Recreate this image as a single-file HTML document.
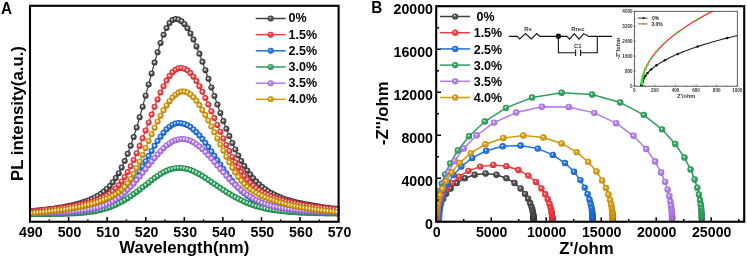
<!DOCTYPE html>
<html><head><meta charset="utf-8"><style>html,body{margin:0;padding:0;background:#fff;width:747px;height:259px;overflow:hidden}svg{display:block;will-change:transform}</style></head><body>
<svg width="747" height="259" viewBox="0 0 747 259" font-family='"Liberation Sans", sans-serif' font-weight="bold">
<defs><radialGradient id="g_gray" cx="0.5" cy="0.5" r="0.5" fx="0.4" fy="0.36"><stop offset="0" stop-color="#ffffff"/><stop offset="0.08" stop-color="#ffffff" stop-opacity="0.9"/><stop offset="0.22" stop-color="#9a9a9a"/><stop offset="0.4" stop-color="#4e4e4e"/><stop offset="0.8" stop-color="#4e4e4e"/><stop offset="1" stop-color="#2a2a2a"/></radialGradient><radialGradient id="a_gray" cx="0.5" cy="0.5" r="0.5" fx="0.42" fy="0.38"><stop offset="0" stop-color="#ffffff"/><stop offset="0.1" stop-color="#ffffff"/><stop offset="0.3" stop-color="#9a9a9a"/><stop offset="0.6" stop-color="#4e4e4e"/><stop offset="1" stop-color="#2a2a2a"/></radialGradient><radialGradient id="g_red" cx="0.5" cy="0.5" r="0.5" fx="0.4" fy="0.36"><stop offset="0" stop-color="#ffffff"/><stop offset="0.08" stop-color="#ffffff" stop-opacity="0.9"/><stop offset="0.22" stop-color="#ff9a9d"/><stop offset="0.4" stop-color="#ee3d43"/><stop offset="0.8" stop-color="#ee3d43"/><stop offset="1" stop-color="#c81f26"/></radialGradient><radialGradient id="a_red" cx="0.5" cy="0.5" r="0.5" fx="0.42" fy="0.38"><stop offset="0" stop-color="#ffffff"/><stop offset="0.1" stop-color="#ffffff"/><stop offset="0.3" stop-color="#ff9a9d"/><stop offset="0.6" stop-color="#ee3d43"/><stop offset="1" stop-color="#c81f26"/></radialGradient><radialGradient id="g_blue" cx="0.5" cy="0.5" r="0.5" fx="0.4" fy="0.36"><stop offset="0" stop-color="#ffffff"/><stop offset="0.08" stop-color="#ffffff" stop-opacity="0.9"/><stop offset="0.22" stop-color="#8fbcff"/><stop offset="0.4" stop-color="#2273e0"/><stop offset="0.8" stop-color="#2273e0"/><stop offset="1" stop-color="#0f4fb0"/></radialGradient><radialGradient id="a_blue" cx="0.5" cy="0.5" r="0.5" fx="0.42" fy="0.38"><stop offset="0" stop-color="#ffffff"/><stop offset="0.1" stop-color="#ffffff"/><stop offset="0.3" stop-color="#8fbcff"/><stop offset="0.6" stop-color="#2273e0"/><stop offset="1" stop-color="#0f4fb0"/></radialGradient><radialGradient id="g_green" cx="0.5" cy="0.5" r="0.5" fx="0.4" fy="0.36"><stop offset="0" stop-color="#ffffff"/><stop offset="0.08" stop-color="#ffffff" stop-opacity="0.9"/><stop offset="0.22" stop-color="#9ddcb5"/><stop offset="0.4" stop-color="#32a462"/><stop offset="0.8" stop-color="#32a462"/><stop offset="1" stop-color="#1b7a40"/></radialGradient><radialGradient id="a_green" cx="0.5" cy="0.5" r="0.5" fx="0.42" fy="0.38"><stop offset="0" stop-color="#ffffff"/><stop offset="0.1" stop-color="#ffffff"/><stop offset="0.3" stop-color="#9ddcb5"/><stop offset="0.6" stop-color="#32a462"/><stop offset="1" stop-color="#1b7a40"/></radialGradient><radialGradient id="g_purple" cx="0.5" cy="0.5" r="0.5" fx="0.4" fy="0.36"><stop offset="0" stop-color="#ffffff"/><stop offset="0.08" stop-color="#ffffff" stop-opacity="0.9"/><stop offset="0.22" stop-color="#dcc2ff"/><stop offset="0.4" stop-color="#b27ee8"/><stop offset="0.8" stop-color="#b27ee8"/><stop offset="1" stop-color="#8c52c8"/></radialGradient><radialGradient id="a_purple" cx="0.5" cy="0.5" r="0.5" fx="0.42" fy="0.38"><stop offset="0" stop-color="#ffffff"/><stop offset="0.1" stop-color="#ffffff"/><stop offset="0.3" stop-color="#dcc2ff"/><stop offset="0.6" stop-color="#b27ee8"/><stop offset="1" stop-color="#8c52c8"/></radialGradient><radialGradient id="g_orange" cx="0.5" cy="0.5" r="0.5" fx="0.4" fy="0.36"><stop offset="0" stop-color="#ffffff"/><stop offset="0.08" stop-color="#ffffff" stop-opacity="0.9"/><stop offset="0.22" stop-color="#f5d47a"/><stop offset="0.4" stop-color="#d69e10"/><stop offset="0.8" stop-color="#d69e10"/><stop offset="1" stop-color="#a87400"/></radialGradient><radialGradient id="a_orange" cx="0.5" cy="0.5" r="0.5" fx="0.42" fy="0.38"><stop offset="0" stop-color="#ffffff"/><stop offset="0.1" stop-color="#ffffff"/><stop offset="0.3" stop-color="#f5d47a"/><stop offset="0.6" stop-color="#d69e10"/><stop offset="1" stop-color="#a87400"/></radialGradient></defs>
<rect width="747" height="259" fill="#fff"/>
<g>
<polyline points="32,211.13 34.99,210.84 37.98,210.53 40.97,210.2 43.96,209.85 46.95,209.48 49.94,209.08 52.93,208.66 55.92,208.21 58.91,207.73 61.9,207.22 64.89,206.66 67.88,206.07 70.87,205.43 73.86,204.73 76.85,203.98 79.84,203.16 82.83,202.25 85.82,201.25 88.81,200.13 91.8,198.87 94.79,197.43 97.78,195.78 100.77,193.86 103.76,191.61 106.75,188.98 109.74,185.9 112.73,182.27 115.72,178.04 118.71,173.14 121.7,167.49 124.69,161.06 127.68,153.83 130.67,145.79 133.66,136.97 136.65,127.44 139.64,117.29 142.63,106.63 145.62,95.64 148.61,84.48 151.6,73.38 154.59,62.57 157.58,52.34 160.57,42.97 163.56,34.78 166.55,28.07 169.54,23.12 172.53,20.11 175.52,19.08 178.51,19.59 181.5,21.29 184.49,24.22 187.48,28.3 190.47,33.44 193.46,39.51 196.45,46.38 199.44,53.87 202.43,61.86 205.42,70.2 208.41,78.75 211.4,87.41 214.39,96.05 217.38,104.58 220.37,112.92 223.36,120.99 226.35,128.72 229.34,136.07 232.33,142.99 235.32,149.45 238.31,155.44 241.3,160.94 244.29,165.95 247.28,170.5 250.27,174.59 253.26,178.25 256.25,181.52 259.24,184.41 262.23,186.98 265.22,189.25 268.21,191.25 271.2,193.03 274.19,194.6 277.18,196 280.17,197.26 283.16,198.38 286.15,199.4 289.14,200.33 292.13,201.18 295.12,201.96 298.11,202.68 301.1,203.35 304.09,203.97 307.08,204.56 310.07,205.11 313.06,205.62 316.05,206.11 319.04,206.57 322.03,207 325.02,207.42 328.01,207.81 331,208.18 333.99,208.53 336.98,208.86" fill="none" stroke="#404040" stroke-width="1.2"/>
<circle cx="32" cy="211.13" r="3.0" fill="url(#a_gray)"/><circle cx="34.99" cy="210.84" r="3.0" fill="url(#a_gray)"/><circle cx="37.98" cy="210.53" r="3.0" fill="url(#a_gray)"/><circle cx="40.97" cy="210.2" r="3.0" fill="url(#a_gray)"/><circle cx="43.96" cy="209.85" r="3.0" fill="url(#a_gray)"/><circle cx="46.95" cy="209.48" r="3.0" fill="url(#a_gray)"/><circle cx="49.94" cy="209.08" r="3.0" fill="url(#a_gray)"/><circle cx="52.93" cy="208.66" r="3.0" fill="url(#a_gray)"/><circle cx="55.92" cy="208.21" r="3.0" fill="url(#a_gray)"/><circle cx="58.91" cy="207.73" r="3.0" fill="url(#a_gray)"/><circle cx="61.9" cy="207.22" r="3.0" fill="url(#a_gray)"/><circle cx="64.89" cy="206.66" r="3.0" fill="url(#a_gray)"/><circle cx="67.88" cy="206.07" r="3.0" fill="url(#a_gray)"/><circle cx="70.87" cy="205.43" r="3.0" fill="url(#a_gray)"/><circle cx="73.86" cy="204.73" r="3.0" fill="url(#a_gray)"/><circle cx="76.85" cy="203.98" r="3.0" fill="url(#a_gray)"/><circle cx="79.84" cy="203.16" r="3.0" fill="url(#a_gray)"/><circle cx="82.83" cy="202.25" r="3.0" fill="url(#a_gray)"/><circle cx="85.82" cy="201.25" r="3.0" fill="url(#a_gray)"/><circle cx="88.81" cy="200.13" r="3.0" fill="url(#a_gray)"/><circle cx="91.8" cy="198.87" r="3.0" fill="url(#a_gray)"/><circle cx="94.79" cy="197.43" r="3.0" fill="url(#a_gray)"/><circle cx="97.78" cy="195.78" r="3.0" fill="url(#a_gray)"/><circle cx="100.77" cy="193.86" r="3.0" fill="url(#a_gray)"/><circle cx="103.76" cy="191.61" r="3.0" fill="url(#a_gray)"/><circle cx="106.75" cy="188.98" r="3.0" fill="url(#a_gray)"/><circle cx="109.74" cy="185.9" r="3.0" fill="url(#a_gray)"/><circle cx="112.73" cy="182.27" r="3.0" fill="url(#a_gray)"/><circle cx="115.72" cy="178.04" r="3.0" fill="url(#a_gray)"/><circle cx="118.71" cy="173.14" r="3.0" fill="url(#a_gray)"/><circle cx="121.7" cy="167.49" r="3.0" fill="url(#a_gray)"/><circle cx="124.69" cy="161.06" r="3.0" fill="url(#a_gray)"/><circle cx="127.68" cy="153.83" r="3.0" fill="url(#a_gray)"/><circle cx="130.67" cy="145.79" r="3.0" fill="url(#a_gray)"/><circle cx="133.66" cy="136.97" r="3.0" fill="url(#a_gray)"/><circle cx="136.65" cy="127.44" r="3.0" fill="url(#a_gray)"/><circle cx="139.64" cy="117.29" r="3.0" fill="url(#a_gray)"/><circle cx="142.63" cy="106.63" r="3.0" fill="url(#a_gray)"/><circle cx="145.62" cy="95.64" r="3.0" fill="url(#a_gray)"/><circle cx="148.61" cy="84.48" r="3.0" fill="url(#a_gray)"/><circle cx="151.6" cy="73.38" r="3.0" fill="url(#a_gray)"/><circle cx="154.59" cy="62.57" r="3.0" fill="url(#a_gray)"/><circle cx="157.58" cy="52.34" r="3.0" fill="url(#a_gray)"/><circle cx="160.57" cy="42.97" r="3.0" fill="url(#a_gray)"/><circle cx="163.56" cy="34.78" r="3.0" fill="url(#a_gray)"/><circle cx="166.55" cy="28.07" r="3.0" fill="url(#a_gray)"/><circle cx="169.54" cy="23.12" r="3.0" fill="url(#a_gray)"/><circle cx="172.53" cy="20.11" r="3.0" fill="url(#a_gray)"/><circle cx="175.52" cy="19.08" r="3.0" fill="url(#a_gray)"/><circle cx="178.51" cy="19.59" r="3.0" fill="url(#a_gray)"/><circle cx="181.5" cy="21.29" r="3.0" fill="url(#a_gray)"/><circle cx="184.49" cy="24.22" r="3.0" fill="url(#a_gray)"/><circle cx="187.48" cy="28.3" r="3.0" fill="url(#a_gray)"/><circle cx="190.47" cy="33.44" r="3.0" fill="url(#a_gray)"/><circle cx="193.46" cy="39.51" r="3.0" fill="url(#a_gray)"/><circle cx="196.45" cy="46.38" r="3.0" fill="url(#a_gray)"/><circle cx="199.44" cy="53.87" r="3.0" fill="url(#a_gray)"/><circle cx="202.43" cy="61.86" r="3.0" fill="url(#a_gray)"/><circle cx="205.42" cy="70.2" r="3.0" fill="url(#a_gray)"/><circle cx="208.41" cy="78.75" r="3.0" fill="url(#a_gray)"/><circle cx="211.4" cy="87.41" r="3.0" fill="url(#a_gray)"/><circle cx="214.39" cy="96.05" r="3.0" fill="url(#a_gray)"/><circle cx="217.38" cy="104.58" r="3.0" fill="url(#a_gray)"/><circle cx="220.37" cy="112.92" r="3.0" fill="url(#a_gray)"/><circle cx="223.36" cy="120.99" r="3.0" fill="url(#a_gray)"/><circle cx="226.35" cy="128.72" r="3.0" fill="url(#a_gray)"/><circle cx="229.34" cy="136.07" r="3.0" fill="url(#a_gray)"/><circle cx="232.33" cy="142.99" r="3.0" fill="url(#a_gray)"/><circle cx="235.32" cy="149.45" r="3.0" fill="url(#a_gray)"/><circle cx="238.31" cy="155.44" r="3.0" fill="url(#a_gray)"/><circle cx="241.3" cy="160.94" r="3.0" fill="url(#a_gray)"/><circle cx="244.29" cy="165.95" r="3.0" fill="url(#a_gray)"/><circle cx="247.28" cy="170.5" r="3.0" fill="url(#a_gray)"/><circle cx="250.27" cy="174.59" r="3.0" fill="url(#a_gray)"/><circle cx="253.26" cy="178.25" r="3.0" fill="url(#a_gray)"/><circle cx="256.25" cy="181.52" r="3.0" fill="url(#a_gray)"/><circle cx="259.24" cy="184.41" r="3.0" fill="url(#a_gray)"/><circle cx="262.23" cy="186.98" r="3.0" fill="url(#a_gray)"/><circle cx="265.22" cy="189.25" r="3.0" fill="url(#a_gray)"/><circle cx="268.21" cy="191.25" r="3.0" fill="url(#a_gray)"/><circle cx="271.2" cy="193.03" r="3.0" fill="url(#a_gray)"/><circle cx="274.19" cy="194.6" r="3.0" fill="url(#a_gray)"/><circle cx="277.18" cy="196" r="3.0" fill="url(#a_gray)"/><circle cx="280.17" cy="197.26" r="3.0" fill="url(#a_gray)"/><circle cx="283.16" cy="198.38" r="3.0" fill="url(#a_gray)"/><circle cx="286.15" cy="199.4" r="3.0" fill="url(#a_gray)"/><circle cx="289.14" cy="200.33" r="3.0" fill="url(#a_gray)"/><circle cx="292.13" cy="201.18" r="3.0" fill="url(#a_gray)"/><circle cx="295.12" cy="201.96" r="3.0" fill="url(#a_gray)"/><circle cx="298.11" cy="202.68" r="3.0" fill="url(#a_gray)"/><circle cx="301.1" cy="203.35" r="3.0" fill="url(#a_gray)"/><circle cx="304.09" cy="203.97" r="3.0" fill="url(#a_gray)"/><circle cx="307.08" cy="204.56" r="3.0" fill="url(#a_gray)"/><circle cx="310.07" cy="205.11" r="3.0" fill="url(#a_gray)"/><circle cx="313.06" cy="205.62" r="3.0" fill="url(#a_gray)"/><circle cx="316.05" cy="206.11" r="3.0" fill="url(#a_gray)"/><circle cx="319.04" cy="206.57" r="3.0" fill="url(#a_gray)"/><circle cx="322.03" cy="207" r="3.0" fill="url(#a_gray)"/><circle cx="325.02" cy="207.42" r="3.0" fill="url(#a_gray)"/><circle cx="328.01" cy="207.81" r="3.0" fill="url(#a_gray)"/><circle cx="331" cy="208.18" r="3.0" fill="url(#a_gray)"/><circle cx="333.99" cy="208.53" r="3.0" fill="url(#a_gray)"/><circle cx="336.98" cy="208.86" r="3.0" fill="url(#a_gray)"/>
<polyline points="32,211 34.99,210.76 37.98,210.51 40.97,210.24 43.96,209.96 46.95,209.66 49.94,209.34 52.93,209.01 55.92,208.65 58.91,208.27 61.9,207.86 64.89,207.43 67.88,206.96 70.87,206.47 73.86,205.94 76.85,205.36 79.84,204.75 82.83,204.09 85.82,203.37 88.81,202.58 91.8,201.72 94.79,200.76 97.78,199.68 100.77,198.46 103.76,197.05 106.75,195.4 109.74,193.45 112.73,191.15 115.72,188.41 118.71,185.18 121.7,181.38 124.69,176.98 127.68,171.95 130.67,166.28 133.66,160.01 136.65,153.19 139.64,145.91 142.63,138.27 145.62,130.41 148.61,122.45 151.6,114.54 154.59,106.82 157.58,99.42 160.57,92.5 163.56,86.18 166.55,80.62 169.54,75.95 172.53,72.28 175.52,69.7 178.51,68.27 181.5,67.96 184.49,68.65 187.48,70.36 190.47,73.04 193.46,76.64 196.45,81.06 199.44,86.17 202.43,91.86 205.42,98 208.41,104.49 211.4,111.21 214.39,118.05 217.38,124.93 220.37,131.76 223.36,138.44 226.35,144.9 229.34,151.08 232.33,156.9 235.32,162.32 238.31,167.31 241.3,171.85 244.29,175.93 247.28,179.56 250.27,182.77 253.26,185.58 256.25,188.04 259.24,190.18 262.23,192.06 265.22,193.7 268.21,195.15 271.2,196.44 274.19,197.59 277.18,198.64 280.17,199.59 283.16,200.46 286.15,201.27 289.14,202.02 292.13,202.71 295.12,203.36 298.11,203.97 301.1,204.54 304.09,205.08 307.08,205.58 310.07,206.06 313.06,206.5 316.05,206.92 319.04,207.32 322.03,207.7 325.02,208.05 328.01,208.39 331,208.7 333.99,209.01 336.98,209.29" fill="none" stroke="#ec3b41" stroke-width="1.2"/>
<circle cx="32" cy="211" r="3.0" fill="url(#a_red)"/><circle cx="34.99" cy="210.76" r="3.0" fill="url(#a_red)"/><circle cx="37.98" cy="210.51" r="3.0" fill="url(#a_red)"/><circle cx="40.97" cy="210.24" r="3.0" fill="url(#a_red)"/><circle cx="43.96" cy="209.96" r="3.0" fill="url(#a_red)"/><circle cx="46.95" cy="209.66" r="3.0" fill="url(#a_red)"/><circle cx="49.94" cy="209.34" r="3.0" fill="url(#a_red)"/><circle cx="52.93" cy="209.01" r="3.0" fill="url(#a_red)"/><circle cx="55.92" cy="208.65" r="3.0" fill="url(#a_red)"/><circle cx="58.91" cy="208.27" r="3.0" fill="url(#a_red)"/><circle cx="61.9" cy="207.86" r="3.0" fill="url(#a_red)"/><circle cx="64.89" cy="207.43" r="3.0" fill="url(#a_red)"/><circle cx="67.88" cy="206.96" r="3.0" fill="url(#a_red)"/><circle cx="70.87" cy="206.47" r="3.0" fill="url(#a_red)"/><circle cx="73.86" cy="205.94" r="3.0" fill="url(#a_red)"/><circle cx="76.85" cy="205.36" r="3.0" fill="url(#a_red)"/><circle cx="79.84" cy="204.75" r="3.0" fill="url(#a_red)"/><circle cx="82.83" cy="204.09" r="3.0" fill="url(#a_red)"/><circle cx="85.82" cy="203.37" r="3.0" fill="url(#a_red)"/><circle cx="88.81" cy="202.58" r="3.0" fill="url(#a_red)"/><circle cx="91.8" cy="201.72" r="3.0" fill="url(#a_red)"/><circle cx="94.79" cy="200.76" r="3.0" fill="url(#a_red)"/><circle cx="97.78" cy="199.68" r="3.0" fill="url(#a_red)"/><circle cx="100.77" cy="198.46" r="3.0" fill="url(#a_red)"/><circle cx="103.76" cy="197.05" r="3.0" fill="url(#a_red)"/><circle cx="106.75" cy="195.4" r="3.0" fill="url(#a_red)"/><circle cx="109.74" cy="193.45" r="3.0" fill="url(#a_red)"/><circle cx="112.73" cy="191.15" r="3.0" fill="url(#a_red)"/><circle cx="115.72" cy="188.41" r="3.0" fill="url(#a_red)"/><circle cx="118.71" cy="185.18" r="3.0" fill="url(#a_red)"/><circle cx="121.7" cy="181.38" r="3.0" fill="url(#a_red)"/><circle cx="124.69" cy="176.98" r="3.0" fill="url(#a_red)"/><circle cx="127.68" cy="171.95" r="3.0" fill="url(#a_red)"/><circle cx="130.67" cy="166.28" r="3.0" fill="url(#a_red)"/><circle cx="133.66" cy="160.01" r="3.0" fill="url(#a_red)"/><circle cx="136.65" cy="153.19" r="3.0" fill="url(#a_red)"/><circle cx="139.64" cy="145.91" r="3.0" fill="url(#a_red)"/><circle cx="142.63" cy="138.27" r="3.0" fill="url(#a_red)"/><circle cx="145.62" cy="130.41" r="3.0" fill="url(#a_red)"/><circle cx="148.61" cy="122.45" r="3.0" fill="url(#a_red)"/><circle cx="151.6" cy="114.54" r="3.0" fill="url(#a_red)"/><circle cx="154.59" cy="106.82" r="3.0" fill="url(#a_red)"/><circle cx="157.58" cy="99.42" r="3.0" fill="url(#a_red)"/><circle cx="160.57" cy="92.5" r="3.0" fill="url(#a_red)"/><circle cx="163.56" cy="86.18" r="3.0" fill="url(#a_red)"/><circle cx="166.55" cy="80.62" r="3.0" fill="url(#a_red)"/><circle cx="169.54" cy="75.95" r="3.0" fill="url(#a_red)"/><circle cx="172.53" cy="72.28" r="3.0" fill="url(#a_red)"/><circle cx="175.52" cy="69.7" r="3.0" fill="url(#a_red)"/><circle cx="178.51" cy="68.27" r="3.0" fill="url(#a_red)"/><circle cx="181.5" cy="67.96" r="3.0" fill="url(#a_red)"/><circle cx="184.49" cy="68.65" r="3.0" fill="url(#a_red)"/><circle cx="187.48" cy="70.36" r="3.0" fill="url(#a_red)"/><circle cx="190.47" cy="73.04" r="3.0" fill="url(#a_red)"/><circle cx="193.46" cy="76.64" r="3.0" fill="url(#a_red)"/><circle cx="196.45" cy="81.06" r="3.0" fill="url(#a_red)"/><circle cx="199.44" cy="86.17" r="3.0" fill="url(#a_red)"/><circle cx="202.43" cy="91.86" r="3.0" fill="url(#a_red)"/><circle cx="205.42" cy="98" r="3.0" fill="url(#a_red)"/><circle cx="208.41" cy="104.49" r="3.0" fill="url(#a_red)"/><circle cx="211.4" cy="111.21" r="3.0" fill="url(#a_red)"/><circle cx="214.39" cy="118.05" r="3.0" fill="url(#a_red)"/><circle cx="217.38" cy="124.93" r="3.0" fill="url(#a_red)"/><circle cx="220.37" cy="131.76" r="3.0" fill="url(#a_red)"/><circle cx="223.36" cy="138.44" r="3.0" fill="url(#a_red)"/><circle cx="226.35" cy="144.9" r="3.0" fill="url(#a_red)"/><circle cx="229.34" cy="151.08" r="3.0" fill="url(#a_red)"/><circle cx="232.33" cy="156.9" r="3.0" fill="url(#a_red)"/><circle cx="235.32" cy="162.32" r="3.0" fill="url(#a_red)"/><circle cx="238.31" cy="167.31" r="3.0" fill="url(#a_red)"/><circle cx="241.3" cy="171.85" r="3.0" fill="url(#a_red)"/><circle cx="244.29" cy="175.93" r="3.0" fill="url(#a_red)"/><circle cx="247.28" cy="179.56" r="3.0" fill="url(#a_red)"/><circle cx="250.27" cy="182.77" r="3.0" fill="url(#a_red)"/><circle cx="253.26" cy="185.58" r="3.0" fill="url(#a_red)"/><circle cx="256.25" cy="188.04" r="3.0" fill="url(#a_red)"/><circle cx="259.24" cy="190.18" r="3.0" fill="url(#a_red)"/><circle cx="262.23" cy="192.06" r="3.0" fill="url(#a_red)"/><circle cx="265.22" cy="193.7" r="3.0" fill="url(#a_red)"/><circle cx="268.21" cy="195.15" r="3.0" fill="url(#a_red)"/><circle cx="271.2" cy="196.44" r="3.0" fill="url(#a_red)"/><circle cx="274.19" cy="197.59" r="3.0" fill="url(#a_red)"/><circle cx="277.18" cy="198.64" r="3.0" fill="url(#a_red)"/><circle cx="280.17" cy="199.59" r="3.0" fill="url(#a_red)"/><circle cx="283.16" cy="200.46" r="3.0" fill="url(#a_red)"/><circle cx="286.15" cy="201.27" r="3.0" fill="url(#a_red)"/><circle cx="289.14" cy="202.02" r="3.0" fill="url(#a_red)"/><circle cx="292.13" cy="202.71" r="3.0" fill="url(#a_red)"/><circle cx="295.12" cy="203.36" r="3.0" fill="url(#a_red)"/><circle cx="298.11" cy="203.97" r="3.0" fill="url(#a_red)"/><circle cx="301.1" cy="204.54" r="3.0" fill="url(#a_red)"/><circle cx="304.09" cy="205.08" r="3.0" fill="url(#a_red)"/><circle cx="307.08" cy="205.58" r="3.0" fill="url(#a_red)"/><circle cx="310.07" cy="206.06" r="3.0" fill="url(#a_red)"/><circle cx="313.06" cy="206.5" r="3.0" fill="url(#a_red)"/><circle cx="316.05" cy="206.92" r="3.0" fill="url(#a_red)"/><circle cx="319.04" cy="207.32" r="3.0" fill="url(#a_red)"/><circle cx="322.03" cy="207.7" r="3.0" fill="url(#a_red)"/><circle cx="325.02" cy="208.05" r="3.0" fill="url(#a_red)"/><circle cx="328.01" cy="208.39" r="3.0" fill="url(#a_red)"/><circle cx="331" cy="208.7" r="3.0" fill="url(#a_red)"/><circle cx="333.99" cy="209.01" r="3.0" fill="url(#a_red)"/><circle cx="336.98" cy="209.29" r="3.0" fill="url(#a_red)"/>
<polyline points="32,212.58 34.99,212.46 37.98,212.34 40.97,212.2 43.96,212.06 46.95,211.9 49.94,211.74 52.93,211.57 55.92,211.39 58.91,211.19 61.9,210.98 64.89,210.76 67.88,210.52 70.87,210.26 73.86,209.98 76.85,209.68 79.84,209.36 82.83,209 85.82,208.62 88.81,208.18 91.8,207.7 94.79,207.15 97.78,206.52 100.77,205.78 103.76,204.91 106.75,203.88 109.74,202.64 112.73,201.15 115.72,199.37 118.71,197.26 121.7,194.77 124.69,191.89 127.68,188.6 130.67,184.89 133.66,180.78 136.65,176.31 139.64,171.53 142.63,166.51 145.62,161.34 148.61,156.1 151.6,150.91 154.59,145.87 157.58,141.08 160.57,136.65 163.56,132.7 166.55,129.33 169.54,126.63 172.53,124.67 175.52,123.49 178.51,123.08 181.5,123.27 184.49,123.99 187.48,125.26 190.47,127.08 193.46,129.42 196.45,132.24 199.44,135.48 202.43,139.09 205.42,142.99 208.41,147.12 211.4,151.43 214.39,155.83 217.38,160.28 220.37,164.7 223.36,169.03 226.35,173.23 229.34,177.24 232.33,181.02 235.32,184.53 238.31,187.76 241.3,190.7 244.29,193.33 247.28,195.66 250.27,197.71 253.26,199.5 256.25,201.04 259.24,202.37 262.23,203.5 265.22,204.47 268.21,205.31 271.2,206.02 274.19,206.64 277.18,207.19 280.17,207.67 283.16,208.09 286.15,208.48 289.14,208.83 292.13,209.15 295.12,209.44 298.11,209.72 301.1,209.97 304.09,210.21 307.08,210.44 310.07,210.65 313.06,210.85 316.05,211.03 319.04,211.21 322.03,211.38 325.02,211.54 328.01,211.69 331,211.83 333.99,211.96 336.98,212.09" fill="none" stroke="#1f6fdc" stroke-width="1.2"/>
<circle cx="32" cy="212.58" r="3.0" fill="url(#a_blue)"/><circle cx="34.99" cy="212.46" r="3.0" fill="url(#a_blue)"/><circle cx="37.98" cy="212.34" r="3.0" fill="url(#a_blue)"/><circle cx="40.97" cy="212.2" r="3.0" fill="url(#a_blue)"/><circle cx="43.96" cy="212.06" r="3.0" fill="url(#a_blue)"/><circle cx="46.95" cy="211.9" r="3.0" fill="url(#a_blue)"/><circle cx="49.94" cy="211.74" r="3.0" fill="url(#a_blue)"/><circle cx="52.93" cy="211.57" r="3.0" fill="url(#a_blue)"/><circle cx="55.92" cy="211.39" r="3.0" fill="url(#a_blue)"/><circle cx="58.91" cy="211.19" r="3.0" fill="url(#a_blue)"/><circle cx="61.9" cy="210.98" r="3.0" fill="url(#a_blue)"/><circle cx="64.89" cy="210.76" r="3.0" fill="url(#a_blue)"/><circle cx="67.88" cy="210.52" r="3.0" fill="url(#a_blue)"/><circle cx="70.87" cy="210.26" r="3.0" fill="url(#a_blue)"/><circle cx="73.86" cy="209.98" r="3.0" fill="url(#a_blue)"/><circle cx="76.85" cy="209.68" r="3.0" fill="url(#a_blue)"/><circle cx="79.84" cy="209.36" r="3.0" fill="url(#a_blue)"/><circle cx="82.83" cy="209" r="3.0" fill="url(#a_blue)"/><circle cx="85.82" cy="208.62" r="3.0" fill="url(#a_blue)"/><circle cx="88.81" cy="208.18" r="3.0" fill="url(#a_blue)"/><circle cx="91.8" cy="207.7" r="3.0" fill="url(#a_blue)"/><circle cx="94.79" cy="207.15" r="3.0" fill="url(#a_blue)"/><circle cx="97.78" cy="206.52" r="3.0" fill="url(#a_blue)"/><circle cx="100.77" cy="205.78" r="3.0" fill="url(#a_blue)"/><circle cx="103.76" cy="204.91" r="3.0" fill="url(#a_blue)"/><circle cx="106.75" cy="203.88" r="3.0" fill="url(#a_blue)"/><circle cx="109.74" cy="202.64" r="3.0" fill="url(#a_blue)"/><circle cx="112.73" cy="201.15" r="3.0" fill="url(#a_blue)"/><circle cx="115.72" cy="199.37" r="3.0" fill="url(#a_blue)"/><circle cx="118.71" cy="197.26" r="3.0" fill="url(#a_blue)"/><circle cx="121.7" cy="194.77" r="3.0" fill="url(#a_blue)"/><circle cx="124.69" cy="191.89" r="3.0" fill="url(#a_blue)"/><circle cx="127.68" cy="188.6" r="3.0" fill="url(#a_blue)"/><circle cx="130.67" cy="184.89" r="3.0" fill="url(#a_blue)"/><circle cx="133.66" cy="180.78" r="3.0" fill="url(#a_blue)"/><circle cx="136.65" cy="176.31" r="3.0" fill="url(#a_blue)"/><circle cx="139.64" cy="171.53" r="3.0" fill="url(#a_blue)"/><circle cx="142.63" cy="166.51" r="3.0" fill="url(#a_blue)"/><circle cx="145.62" cy="161.34" r="3.0" fill="url(#a_blue)"/><circle cx="148.61" cy="156.1" r="3.0" fill="url(#a_blue)"/><circle cx="151.6" cy="150.91" r="3.0" fill="url(#a_blue)"/><circle cx="154.59" cy="145.87" r="3.0" fill="url(#a_blue)"/><circle cx="157.58" cy="141.08" r="3.0" fill="url(#a_blue)"/><circle cx="160.57" cy="136.65" r="3.0" fill="url(#a_blue)"/><circle cx="163.56" cy="132.7" r="3.0" fill="url(#a_blue)"/><circle cx="166.55" cy="129.33" r="3.0" fill="url(#a_blue)"/><circle cx="169.54" cy="126.63" r="3.0" fill="url(#a_blue)"/><circle cx="172.53" cy="124.67" r="3.0" fill="url(#a_blue)"/><circle cx="175.52" cy="123.49" r="3.0" fill="url(#a_blue)"/><circle cx="178.51" cy="123.08" r="3.0" fill="url(#a_blue)"/><circle cx="181.5" cy="123.27" r="3.0" fill="url(#a_blue)"/><circle cx="184.49" cy="123.99" r="3.0" fill="url(#a_blue)"/><circle cx="187.48" cy="125.26" r="3.0" fill="url(#a_blue)"/><circle cx="190.47" cy="127.08" r="3.0" fill="url(#a_blue)"/><circle cx="193.46" cy="129.42" r="3.0" fill="url(#a_blue)"/><circle cx="196.45" cy="132.24" r="3.0" fill="url(#a_blue)"/><circle cx="199.44" cy="135.48" r="3.0" fill="url(#a_blue)"/><circle cx="202.43" cy="139.09" r="3.0" fill="url(#a_blue)"/><circle cx="205.42" cy="142.99" r="3.0" fill="url(#a_blue)"/><circle cx="208.41" cy="147.12" r="3.0" fill="url(#a_blue)"/><circle cx="211.4" cy="151.43" r="3.0" fill="url(#a_blue)"/><circle cx="214.39" cy="155.83" r="3.0" fill="url(#a_blue)"/><circle cx="217.38" cy="160.28" r="3.0" fill="url(#a_blue)"/><circle cx="220.37" cy="164.7" r="3.0" fill="url(#a_blue)"/><circle cx="223.36" cy="169.03" r="3.0" fill="url(#a_blue)"/><circle cx="226.35" cy="173.23" r="3.0" fill="url(#a_blue)"/><circle cx="229.34" cy="177.24" r="3.0" fill="url(#a_blue)"/><circle cx="232.33" cy="181.02" r="3.0" fill="url(#a_blue)"/><circle cx="235.32" cy="184.53" r="3.0" fill="url(#a_blue)"/><circle cx="238.31" cy="187.76" r="3.0" fill="url(#a_blue)"/><circle cx="241.3" cy="190.7" r="3.0" fill="url(#a_blue)"/><circle cx="244.29" cy="193.33" r="3.0" fill="url(#a_blue)"/><circle cx="247.28" cy="195.66" r="3.0" fill="url(#a_blue)"/><circle cx="250.27" cy="197.71" r="3.0" fill="url(#a_blue)"/><circle cx="253.26" cy="199.5" r="3.0" fill="url(#a_blue)"/><circle cx="256.25" cy="201.04" r="3.0" fill="url(#a_blue)"/><circle cx="259.24" cy="202.37" r="3.0" fill="url(#a_blue)"/><circle cx="262.23" cy="203.5" r="3.0" fill="url(#a_blue)"/><circle cx="265.22" cy="204.47" r="3.0" fill="url(#a_blue)"/><circle cx="268.21" cy="205.31" r="3.0" fill="url(#a_blue)"/><circle cx="271.2" cy="206.02" r="3.0" fill="url(#a_blue)"/><circle cx="274.19" cy="206.64" r="3.0" fill="url(#a_blue)"/><circle cx="277.18" cy="207.19" r="3.0" fill="url(#a_blue)"/><circle cx="280.17" cy="207.67" r="3.0" fill="url(#a_blue)"/><circle cx="283.16" cy="208.09" r="3.0" fill="url(#a_blue)"/><circle cx="286.15" cy="208.48" r="3.0" fill="url(#a_blue)"/><circle cx="289.14" cy="208.83" r="3.0" fill="url(#a_blue)"/><circle cx="292.13" cy="209.15" r="3.0" fill="url(#a_blue)"/><circle cx="295.12" cy="209.44" r="3.0" fill="url(#a_blue)"/><circle cx="298.11" cy="209.72" r="3.0" fill="url(#a_blue)"/><circle cx="301.1" cy="209.97" r="3.0" fill="url(#a_blue)"/><circle cx="304.09" cy="210.21" r="3.0" fill="url(#a_blue)"/><circle cx="307.08" cy="210.44" r="3.0" fill="url(#a_blue)"/><circle cx="310.07" cy="210.65" r="3.0" fill="url(#a_blue)"/><circle cx="313.06" cy="210.85" r="3.0" fill="url(#a_blue)"/><circle cx="316.05" cy="211.03" r="3.0" fill="url(#a_blue)"/><circle cx="319.04" cy="211.21" r="3.0" fill="url(#a_blue)"/><circle cx="322.03" cy="211.38" r="3.0" fill="url(#a_blue)"/><circle cx="325.02" cy="211.54" r="3.0" fill="url(#a_blue)"/><circle cx="328.01" cy="211.69" r="3.0" fill="url(#a_blue)"/><circle cx="331" cy="211.83" r="3.0" fill="url(#a_blue)"/><circle cx="333.99" cy="211.96" r="3.0" fill="url(#a_blue)"/><circle cx="336.98" cy="212.09" r="3.0" fill="url(#a_blue)"/>
<polyline points="32,214.35 34.99,214.32 37.98,214.29 40.97,214.26 43.96,214.22 46.95,214.18 49.94,214.14 52.93,214.08 55.92,214.03 58.91,213.96 61.9,213.88 64.89,213.79 67.88,213.68 70.87,213.55 73.86,213.4 76.85,213.21 79.84,213 82.83,212.74 85.82,212.43 88.81,212.07 91.8,211.64 94.79,211.14 97.78,210.56 100.77,209.88 103.76,209.09 106.75,208.2 109.74,207.18 112.73,206.03 115.72,204.74 118.71,203.31 121.7,201.74 124.69,200.03 127.68,198.19 130.67,196.21 133.66,194.12 136.65,191.93 139.64,189.66 142.63,187.34 145.62,184.99 148.61,182.64 151.6,180.34 154.59,178.11 157.58,176.01 160.57,174.07 163.56,172.33 166.55,170.83 169.54,169.61 172.53,168.71 175.52,168.13 178.51,167.91 181.5,168 184.49,168.4 187.48,169.09 190.47,170.05 193.46,171.27 196.45,172.7 199.44,174.32 202.43,176.09 205.42,177.97 208.41,179.94 211.4,181.96 214.39,184 217.38,186.05 220.37,188.07 223.36,190.06 226.35,191.98 229.34,193.84 232.33,195.61 235.32,197.29 238.31,198.87 241.3,200.35 244.29,201.72 247.28,202.99 250.27,204.15 253.26,205.21 256.25,206.18 259.24,207.05 262.23,207.83 265.22,208.53 268.21,209.15 271.2,209.7 274.19,210.19 277.18,210.62 280.17,211 283.16,211.33 286.15,211.62 289.14,211.88 292.13,212.1 295.12,212.3 298.11,212.48 301.1,212.63 304.09,212.77 307.08,212.89 310.07,213 313.06,213.1 316.05,213.19 319.04,213.28 322.03,213.35 325.02,213.42 328.01,213.48 331,213.54 333.99,213.6 336.98,213.65" fill="none" stroke="#2e9e5c" stroke-width="1.2"/>
<circle cx="32" cy="214.35" r="3.0" fill="url(#a_green)"/><circle cx="34.99" cy="214.32" r="3.0" fill="url(#a_green)"/><circle cx="37.98" cy="214.29" r="3.0" fill="url(#a_green)"/><circle cx="40.97" cy="214.26" r="3.0" fill="url(#a_green)"/><circle cx="43.96" cy="214.22" r="3.0" fill="url(#a_green)"/><circle cx="46.95" cy="214.18" r="3.0" fill="url(#a_green)"/><circle cx="49.94" cy="214.14" r="3.0" fill="url(#a_green)"/><circle cx="52.93" cy="214.08" r="3.0" fill="url(#a_green)"/><circle cx="55.92" cy="214.03" r="3.0" fill="url(#a_green)"/><circle cx="58.91" cy="213.96" r="3.0" fill="url(#a_green)"/><circle cx="61.9" cy="213.88" r="3.0" fill="url(#a_green)"/><circle cx="64.89" cy="213.79" r="3.0" fill="url(#a_green)"/><circle cx="67.88" cy="213.68" r="3.0" fill="url(#a_green)"/><circle cx="70.87" cy="213.55" r="3.0" fill="url(#a_green)"/><circle cx="73.86" cy="213.4" r="3.0" fill="url(#a_green)"/><circle cx="76.85" cy="213.21" r="3.0" fill="url(#a_green)"/><circle cx="79.84" cy="213" r="3.0" fill="url(#a_green)"/><circle cx="82.83" cy="212.74" r="3.0" fill="url(#a_green)"/><circle cx="85.82" cy="212.43" r="3.0" fill="url(#a_green)"/><circle cx="88.81" cy="212.07" r="3.0" fill="url(#a_green)"/><circle cx="91.8" cy="211.64" r="3.0" fill="url(#a_green)"/><circle cx="94.79" cy="211.14" r="3.0" fill="url(#a_green)"/><circle cx="97.78" cy="210.56" r="3.0" fill="url(#a_green)"/><circle cx="100.77" cy="209.88" r="3.0" fill="url(#a_green)"/><circle cx="103.76" cy="209.09" r="3.0" fill="url(#a_green)"/><circle cx="106.75" cy="208.2" r="3.0" fill="url(#a_green)"/><circle cx="109.74" cy="207.18" r="3.0" fill="url(#a_green)"/><circle cx="112.73" cy="206.03" r="3.0" fill="url(#a_green)"/><circle cx="115.72" cy="204.74" r="3.0" fill="url(#a_green)"/><circle cx="118.71" cy="203.31" r="3.0" fill="url(#a_green)"/><circle cx="121.7" cy="201.74" r="3.0" fill="url(#a_green)"/><circle cx="124.69" cy="200.03" r="3.0" fill="url(#a_green)"/><circle cx="127.68" cy="198.19" r="3.0" fill="url(#a_green)"/><circle cx="130.67" cy="196.21" r="3.0" fill="url(#a_green)"/><circle cx="133.66" cy="194.12" r="3.0" fill="url(#a_green)"/><circle cx="136.65" cy="191.93" r="3.0" fill="url(#a_green)"/><circle cx="139.64" cy="189.66" r="3.0" fill="url(#a_green)"/><circle cx="142.63" cy="187.34" r="3.0" fill="url(#a_green)"/><circle cx="145.62" cy="184.99" r="3.0" fill="url(#a_green)"/><circle cx="148.61" cy="182.64" r="3.0" fill="url(#a_green)"/><circle cx="151.6" cy="180.34" r="3.0" fill="url(#a_green)"/><circle cx="154.59" cy="178.11" r="3.0" fill="url(#a_green)"/><circle cx="157.58" cy="176.01" r="3.0" fill="url(#a_green)"/><circle cx="160.57" cy="174.07" r="3.0" fill="url(#a_green)"/><circle cx="163.56" cy="172.33" r="3.0" fill="url(#a_green)"/><circle cx="166.55" cy="170.83" r="3.0" fill="url(#a_green)"/><circle cx="169.54" cy="169.61" r="3.0" fill="url(#a_green)"/><circle cx="172.53" cy="168.71" r="3.0" fill="url(#a_green)"/><circle cx="175.52" cy="168.13" r="3.0" fill="url(#a_green)"/><circle cx="178.51" cy="167.91" r="3.0" fill="url(#a_green)"/><circle cx="181.5" cy="168" r="3.0" fill="url(#a_green)"/><circle cx="184.49" cy="168.4" r="3.0" fill="url(#a_green)"/><circle cx="187.48" cy="169.09" r="3.0" fill="url(#a_green)"/><circle cx="190.47" cy="170.05" r="3.0" fill="url(#a_green)"/><circle cx="193.46" cy="171.27" r="3.0" fill="url(#a_green)"/><circle cx="196.45" cy="172.7" r="3.0" fill="url(#a_green)"/><circle cx="199.44" cy="174.32" r="3.0" fill="url(#a_green)"/><circle cx="202.43" cy="176.09" r="3.0" fill="url(#a_green)"/><circle cx="205.42" cy="177.97" r="3.0" fill="url(#a_green)"/><circle cx="208.41" cy="179.94" r="3.0" fill="url(#a_green)"/><circle cx="211.4" cy="181.96" r="3.0" fill="url(#a_green)"/><circle cx="214.39" cy="184" r="3.0" fill="url(#a_green)"/><circle cx="217.38" cy="186.05" r="3.0" fill="url(#a_green)"/><circle cx="220.37" cy="188.07" r="3.0" fill="url(#a_green)"/><circle cx="223.36" cy="190.06" r="3.0" fill="url(#a_green)"/><circle cx="226.35" cy="191.98" r="3.0" fill="url(#a_green)"/><circle cx="229.34" cy="193.84" r="3.0" fill="url(#a_green)"/><circle cx="232.33" cy="195.61" r="3.0" fill="url(#a_green)"/><circle cx="235.32" cy="197.29" r="3.0" fill="url(#a_green)"/><circle cx="238.31" cy="198.87" r="3.0" fill="url(#a_green)"/><circle cx="241.3" cy="200.35" r="3.0" fill="url(#a_green)"/><circle cx="244.29" cy="201.72" r="3.0" fill="url(#a_green)"/><circle cx="247.28" cy="202.99" r="3.0" fill="url(#a_green)"/><circle cx="250.27" cy="204.15" r="3.0" fill="url(#a_green)"/><circle cx="253.26" cy="205.21" r="3.0" fill="url(#a_green)"/><circle cx="256.25" cy="206.18" r="3.0" fill="url(#a_green)"/><circle cx="259.24" cy="207.05" r="3.0" fill="url(#a_green)"/><circle cx="262.23" cy="207.83" r="3.0" fill="url(#a_green)"/><circle cx="265.22" cy="208.53" r="3.0" fill="url(#a_green)"/><circle cx="268.21" cy="209.15" r="3.0" fill="url(#a_green)"/><circle cx="271.2" cy="209.7" r="3.0" fill="url(#a_green)"/><circle cx="274.19" cy="210.19" r="3.0" fill="url(#a_green)"/><circle cx="277.18" cy="210.62" r="3.0" fill="url(#a_green)"/><circle cx="280.17" cy="211" r="3.0" fill="url(#a_green)"/><circle cx="283.16" cy="211.33" r="3.0" fill="url(#a_green)"/><circle cx="286.15" cy="211.62" r="3.0" fill="url(#a_green)"/><circle cx="289.14" cy="211.88" r="3.0" fill="url(#a_green)"/><circle cx="292.13" cy="212.1" r="3.0" fill="url(#a_green)"/><circle cx="295.12" cy="212.3" r="3.0" fill="url(#a_green)"/><circle cx="298.11" cy="212.48" r="3.0" fill="url(#a_green)"/><circle cx="301.1" cy="212.63" r="3.0" fill="url(#a_green)"/><circle cx="304.09" cy="212.77" r="3.0" fill="url(#a_green)"/><circle cx="307.08" cy="212.89" r="3.0" fill="url(#a_green)"/><circle cx="310.07" cy="213" r="3.0" fill="url(#a_green)"/><circle cx="313.06" cy="213.1" r="3.0" fill="url(#a_green)"/><circle cx="316.05" cy="213.19" r="3.0" fill="url(#a_green)"/><circle cx="319.04" cy="213.28" r="3.0" fill="url(#a_green)"/><circle cx="322.03" cy="213.35" r="3.0" fill="url(#a_green)"/><circle cx="325.02" cy="213.42" r="3.0" fill="url(#a_green)"/><circle cx="328.01" cy="213.48" r="3.0" fill="url(#a_green)"/><circle cx="331" cy="213.54" r="3.0" fill="url(#a_green)"/><circle cx="333.99" cy="213.6" r="3.0" fill="url(#a_green)"/><circle cx="336.98" cy="213.65" r="3.0" fill="url(#a_green)"/>
<polyline points="32,213.54 34.99,213.44 37.98,213.34 40.97,213.23 43.96,213.11 46.95,212.99 49.94,212.86 52.93,212.72 55.92,212.58 58.91,212.42 61.9,212.24 64.89,212.06 67.88,211.85 70.87,211.63 73.86,211.38 76.85,211.1 79.84,210.78 82.83,210.42 85.82,210.01 88.81,209.52 91.8,208.96 94.79,208.3 97.78,207.53 100.77,206.62 103.76,205.57 106.75,204.34 109.74,202.93 112.73,201.31 115.72,199.47 118.71,197.39 121.7,195.07 124.69,192.5 127.68,189.7 130.67,186.67 133.66,183.44 136.65,180.02 139.64,176.45 142.63,172.77 145.62,169.03 148.61,165.27 151.6,161.56 154.59,157.93 157.58,154.47 160.57,151.22 163.56,148.25 166.55,145.62 169.54,143.38 172.53,141.58 175.52,140.26 178.51,139.43 181.5,139.08 184.49,139.16 187.48,139.7 190.47,140.73 193.46,142.23 196.45,144.18 199.44,146.51 202.43,149.18 205.42,152.11 208.41,155.27 211.4,158.57 214.39,161.98 217.38,165.44 220.37,168.9 223.36,172.32 226.35,175.66 229.34,178.89 232.33,181.99 235.32,184.93 238.31,187.7 241.3,190.27 244.29,192.65 247.28,194.83 250.27,196.8 253.26,198.59 256.25,200.18 259.24,201.61 262.23,202.86 265.22,203.97 268.21,204.95 271.2,205.81 274.19,206.56 277.18,207.22 280.17,207.8 283.16,208.31 286.15,208.77 289.14,209.18 292.13,209.54 295.12,209.88 298.11,210.18 301.1,210.45 304.09,210.71 307.08,210.94 310.07,211.16 313.06,211.36 316.05,211.56 319.04,211.74 322.03,211.9 325.02,212.06 328.01,212.21 331,212.36 333.99,212.49 336.98,212.62" fill="none" stroke="#b07ae8" stroke-width="1.2"/>
<circle cx="32" cy="213.54" r="3.0" fill="url(#a_purple)"/><circle cx="34.99" cy="213.44" r="3.0" fill="url(#a_purple)"/><circle cx="37.98" cy="213.34" r="3.0" fill="url(#a_purple)"/><circle cx="40.97" cy="213.23" r="3.0" fill="url(#a_purple)"/><circle cx="43.96" cy="213.11" r="3.0" fill="url(#a_purple)"/><circle cx="46.95" cy="212.99" r="3.0" fill="url(#a_purple)"/><circle cx="49.94" cy="212.86" r="3.0" fill="url(#a_purple)"/><circle cx="52.93" cy="212.72" r="3.0" fill="url(#a_purple)"/><circle cx="55.92" cy="212.58" r="3.0" fill="url(#a_purple)"/><circle cx="58.91" cy="212.42" r="3.0" fill="url(#a_purple)"/><circle cx="61.9" cy="212.24" r="3.0" fill="url(#a_purple)"/><circle cx="64.89" cy="212.06" r="3.0" fill="url(#a_purple)"/><circle cx="67.88" cy="211.85" r="3.0" fill="url(#a_purple)"/><circle cx="70.87" cy="211.63" r="3.0" fill="url(#a_purple)"/><circle cx="73.86" cy="211.38" r="3.0" fill="url(#a_purple)"/><circle cx="76.85" cy="211.1" r="3.0" fill="url(#a_purple)"/><circle cx="79.84" cy="210.78" r="3.0" fill="url(#a_purple)"/><circle cx="82.83" cy="210.42" r="3.0" fill="url(#a_purple)"/><circle cx="85.82" cy="210.01" r="3.0" fill="url(#a_purple)"/><circle cx="88.81" cy="209.52" r="3.0" fill="url(#a_purple)"/><circle cx="91.8" cy="208.96" r="3.0" fill="url(#a_purple)"/><circle cx="94.79" cy="208.3" r="3.0" fill="url(#a_purple)"/><circle cx="97.78" cy="207.53" r="3.0" fill="url(#a_purple)"/><circle cx="100.77" cy="206.62" r="3.0" fill="url(#a_purple)"/><circle cx="103.76" cy="205.57" r="3.0" fill="url(#a_purple)"/><circle cx="106.75" cy="204.34" r="3.0" fill="url(#a_purple)"/><circle cx="109.74" cy="202.93" r="3.0" fill="url(#a_purple)"/><circle cx="112.73" cy="201.31" r="3.0" fill="url(#a_purple)"/><circle cx="115.72" cy="199.47" r="3.0" fill="url(#a_purple)"/><circle cx="118.71" cy="197.39" r="3.0" fill="url(#a_purple)"/><circle cx="121.7" cy="195.07" r="3.0" fill="url(#a_purple)"/><circle cx="124.69" cy="192.5" r="3.0" fill="url(#a_purple)"/><circle cx="127.68" cy="189.7" r="3.0" fill="url(#a_purple)"/><circle cx="130.67" cy="186.67" r="3.0" fill="url(#a_purple)"/><circle cx="133.66" cy="183.44" r="3.0" fill="url(#a_purple)"/><circle cx="136.65" cy="180.02" r="3.0" fill="url(#a_purple)"/><circle cx="139.64" cy="176.45" r="3.0" fill="url(#a_purple)"/><circle cx="142.63" cy="172.77" r="3.0" fill="url(#a_purple)"/><circle cx="145.62" cy="169.03" r="3.0" fill="url(#a_purple)"/><circle cx="148.61" cy="165.27" r="3.0" fill="url(#a_purple)"/><circle cx="151.6" cy="161.56" r="3.0" fill="url(#a_purple)"/><circle cx="154.59" cy="157.93" r="3.0" fill="url(#a_purple)"/><circle cx="157.58" cy="154.47" r="3.0" fill="url(#a_purple)"/><circle cx="160.57" cy="151.22" r="3.0" fill="url(#a_purple)"/><circle cx="163.56" cy="148.25" r="3.0" fill="url(#a_purple)"/><circle cx="166.55" cy="145.62" r="3.0" fill="url(#a_purple)"/><circle cx="169.54" cy="143.38" r="3.0" fill="url(#a_purple)"/><circle cx="172.53" cy="141.58" r="3.0" fill="url(#a_purple)"/><circle cx="175.52" cy="140.26" r="3.0" fill="url(#a_purple)"/><circle cx="178.51" cy="139.43" r="3.0" fill="url(#a_purple)"/><circle cx="181.5" cy="139.08" r="3.0" fill="url(#a_purple)"/><circle cx="184.49" cy="139.16" r="3.0" fill="url(#a_purple)"/><circle cx="187.48" cy="139.7" r="3.0" fill="url(#a_purple)"/><circle cx="190.47" cy="140.73" r="3.0" fill="url(#a_purple)"/><circle cx="193.46" cy="142.23" r="3.0" fill="url(#a_purple)"/><circle cx="196.45" cy="144.18" r="3.0" fill="url(#a_purple)"/><circle cx="199.44" cy="146.51" r="3.0" fill="url(#a_purple)"/><circle cx="202.43" cy="149.18" r="3.0" fill="url(#a_purple)"/><circle cx="205.42" cy="152.11" r="3.0" fill="url(#a_purple)"/><circle cx="208.41" cy="155.27" r="3.0" fill="url(#a_purple)"/><circle cx="211.4" cy="158.57" r="3.0" fill="url(#a_purple)"/><circle cx="214.39" cy="161.98" r="3.0" fill="url(#a_purple)"/><circle cx="217.38" cy="165.44" r="3.0" fill="url(#a_purple)"/><circle cx="220.37" cy="168.9" r="3.0" fill="url(#a_purple)"/><circle cx="223.36" cy="172.32" r="3.0" fill="url(#a_purple)"/><circle cx="226.35" cy="175.66" r="3.0" fill="url(#a_purple)"/><circle cx="229.34" cy="178.89" r="3.0" fill="url(#a_purple)"/><circle cx="232.33" cy="181.99" r="3.0" fill="url(#a_purple)"/><circle cx="235.32" cy="184.93" r="3.0" fill="url(#a_purple)"/><circle cx="238.31" cy="187.7" r="3.0" fill="url(#a_purple)"/><circle cx="241.3" cy="190.27" r="3.0" fill="url(#a_purple)"/><circle cx="244.29" cy="192.65" r="3.0" fill="url(#a_purple)"/><circle cx="247.28" cy="194.83" r="3.0" fill="url(#a_purple)"/><circle cx="250.27" cy="196.8" r="3.0" fill="url(#a_purple)"/><circle cx="253.26" cy="198.59" r="3.0" fill="url(#a_purple)"/><circle cx="256.25" cy="200.18" r="3.0" fill="url(#a_purple)"/><circle cx="259.24" cy="201.61" r="3.0" fill="url(#a_purple)"/><circle cx="262.23" cy="202.86" r="3.0" fill="url(#a_purple)"/><circle cx="265.22" cy="203.97" r="3.0" fill="url(#a_purple)"/><circle cx="268.21" cy="204.95" r="3.0" fill="url(#a_purple)"/><circle cx="271.2" cy="205.81" r="3.0" fill="url(#a_purple)"/><circle cx="274.19" cy="206.56" r="3.0" fill="url(#a_purple)"/><circle cx="277.18" cy="207.22" r="3.0" fill="url(#a_purple)"/><circle cx="280.17" cy="207.8" r="3.0" fill="url(#a_purple)"/><circle cx="283.16" cy="208.31" r="3.0" fill="url(#a_purple)"/><circle cx="286.15" cy="208.77" r="3.0" fill="url(#a_purple)"/><circle cx="289.14" cy="209.18" r="3.0" fill="url(#a_purple)"/><circle cx="292.13" cy="209.54" r="3.0" fill="url(#a_purple)"/><circle cx="295.12" cy="209.88" r="3.0" fill="url(#a_purple)"/><circle cx="298.11" cy="210.18" r="3.0" fill="url(#a_purple)"/><circle cx="301.1" cy="210.45" r="3.0" fill="url(#a_purple)"/><circle cx="304.09" cy="210.71" r="3.0" fill="url(#a_purple)"/><circle cx="307.08" cy="210.94" r="3.0" fill="url(#a_purple)"/><circle cx="310.07" cy="211.16" r="3.0" fill="url(#a_purple)"/><circle cx="313.06" cy="211.36" r="3.0" fill="url(#a_purple)"/><circle cx="316.05" cy="211.56" r="3.0" fill="url(#a_purple)"/><circle cx="319.04" cy="211.74" r="3.0" fill="url(#a_purple)"/><circle cx="322.03" cy="211.9" r="3.0" fill="url(#a_purple)"/><circle cx="325.02" cy="212.06" r="3.0" fill="url(#a_purple)"/><circle cx="328.01" cy="212.21" r="3.0" fill="url(#a_purple)"/><circle cx="331" cy="212.36" r="3.0" fill="url(#a_purple)"/><circle cx="333.99" cy="212.49" r="3.0" fill="url(#a_purple)"/><circle cx="336.98" cy="212.62" r="3.0" fill="url(#a_purple)"/>
<polyline points="32,213.04 34.99,212.8 37.98,212.54 40.97,212.28 43.96,211.99 46.95,211.69 49.94,211.37 52.93,211.03 55.92,210.67 58.91,210.29 61.9,209.88 64.89,209.45 67.88,208.99 70.87,208.49 73.86,207.96 76.85,207.39 79.84,206.79 82.83,206.13 85.82,205.43 88.81,204.67 91.8,203.86 94.79,202.98 97.78,202.03 100.77,200.99 103.76,199.88 106.75,198.66 109.74,197.32 112.73,195.83 115.72,194.13 118.71,192.14 121.7,189.75 124.69,186.82 127.68,183.23 130.67,178.9 133.66,173.81 136.65,168.01 139.64,161.65 142.63,154.9 145.62,147.96 148.61,141.02 151.6,134.23 154.59,127.7 157.58,121.5 160.57,115.69 163.56,110.32 166.55,105.45 169.54,101.14 172.53,97.5 175.52,94.63 178.51,92.62 181.5,91.57 184.49,91.51 187.48,92.48 190.47,94.42 193.46,97.25 196.45,100.86 199.44,105.12 202.43,109.9 205.42,115.1 208.41,120.62 211.4,126.4 214.39,132.35 217.38,138.44 220.37,144.57 223.36,150.68 226.35,156.64 229.34,162.36 232.33,167.71 235.32,172.58 238.31,176.92 241.3,180.7 244.29,183.94 247.28,186.69 250.27,189.04 253.26,191.07 256.25,192.86 259.24,194.45 262.23,195.91 265.22,197.23 268.21,198.46 271.2,199.59 274.19,200.64 277.18,201.61 280.17,202.52 283.16,203.36 286.15,204.14 289.14,204.87 292.13,205.55 295.12,206.19 298.11,206.78 301.1,207.34 304.09,207.87 307.08,208.36 310.07,208.82 313.06,209.25 316.05,209.66 319.04,210.04 322.03,210.41 325.02,210.75 328.01,211.08 331,211.38 333.99,211.67 336.98,211.95" fill="none" stroke="#d49a0c" stroke-width="1.2"/>
<circle cx="32" cy="213.04" r="3.0" fill="url(#a_orange)"/><circle cx="34.99" cy="212.8" r="3.0" fill="url(#a_orange)"/><circle cx="37.98" cy="212.54" r="3.0" fill="url(#a_orange)"/><circle cx="40.97" cy="212.28" r="3.0" fill="url(#a_orange)"/><circle cx="43.96" cy="211.99" r="3.0" fill="url(#a_orange)"/><circle cx="46.95" cy="211.69" r="3.0" fill="url(#a_orange)"/><circle cx="49.94" cy="211.37" r="3.0" fill="url(#a_orange)"/><circle cx="52.93" cy="211.03" r="3.0" fill="url(#a_orange)"/><circle cx="55.92" cy="210.67" r="3.0" fill="url(#a_orange)"/><circle cx="58.91" cy="210.29" r="3.0" fill="url(#a_orange)"/><circle cx="61.9" cy="209.88" r="3.0" fill="url(#a_orange)"/><circle cx="64.89" cy="209.45" r="3.0" fill="url(#a_orange)"/><circle cx="67.88" cy="208.99" r="3.0" fill="url(#a_orange)"/><circle cx="70.87" cy="208.49" r="3.0" fill="url(#a_orange)"/><circle cx="73.86" cy="207.96" r="3.0" fill="url(#a_orange)"/><circle cx="76.85" cy="207.39" r="3.0" fill="url(#a_orange)"/><circle cx="79.84" cy="206.79" r="3.0" fill="url(#a_orange)"/><circle cx="82.83" cy="206.13" r="3.0" fill="url(#a_orange)"/><circle cx="85.82" cy="205.43" r="3.0" fill="url(#a_orange)"/><circle cx="88.81" cy="204.67" r="3.0" fill="url(#a_orange)"/><circle cx="91.8" cy="203.86" r="3.0" fill="url(#a_orange)"/><circle cx="94.79" cy="202.98" r="3.0" fill="url(#a_orange)"/><circle cx="97.78" cy="202.03" r="3.0" fill="url(#a_orange)"/><circle cx="100.77" cy="200.99" r="3.0" fill="url(#a_orange)"/><circle cx="103.76" cy="199.88" r="3.0" fill="url(#a_orange)"/><circle cx="106.75" cy="198.66" r="3.0" fill="url(#a_orange)"/><circle cx="109.74" cy="197.32" r="3.0" fill="url(#a_orange)"/><circle cx="112.73" cy="195.83" r="3.0" fill="url(#a_orange)"/><circle cx="115.72" cy="194.13" r="3.0" fill="url(#a_orange)"/><circle cx="118.71" cy="192.14" r="3.0" fill="url(#a_orange)"/><circle cx="121.7" cy="189.75" r="3.0" fill="url(#a_orange)"/><circle cx="124.69" cy="186.82" r="3.0" fill="url(#a_orange)"/><circle cx="127.68" cy="183.23" r="3.0" fill="url(#a_orange)"/><circle cx="130.67" cy="178.9" r="3.0" fill="url(#a_orange)"/><circle cx="133.66" cy="173.81" r="3.0" fill="url(#a_orange)"/><circle cx="136.65" cy="168.01" r="3.0" fill="url(#a_orange)"/><circle cx="139.64" cy="161.65" r="3.0" fill="url(#a_orange)"/><circle cx="142.63" cy="154.9" r="3.0" fill="url(#a_orange)"/><circle cx="145.62" cy="147.96" r="3.0" fill="url(#a_orange)"/><circle cx="148.61" cy="141.02" r="3.0" fill="url(#a_orange)"/><circle cx="151.6" cy="134.23" r="3.0" fill="url(#a_orange)"/><circle cx="154.59" cy="127.7" r="3.0" fill="url(#a_orange)"/><circle cx="157.58" cy="121.5" r="3.0" fill="url(#a_orange)"/><circle cx="160.57" cy="115.69" r="3.0" fill="url(#a_orange)"/><circle cx="163.56" cy="110.32" r="3.0" fill="url(#a_orange)"/><circle cx="166.55" cy="105.45" r="3.0" fill="url(#a_orange)"/><circle cx="169.54" cy="101.14" r="3.0" fill="url(#a_orange)"/><circle cx="172.53" cy="97.5" r="3.0" fill="url(#a_orange)"/><circle cx="175.52" cy="94.63" r="3.0" fill="url(#a_orange)"/><circle cx="178.51" cy="92.62" r="3.0" fill="url(#a_orange)"/><circle cx="181.5" cy="91.57" r="3.0" fill="url(#a_orange)"/><circle cx="184.49" cy="91.51" r="3.0" fill="url(#a_orange)"/><circle cx="187.48" cy="92.48" r="3.0" fill="url(#a_orange)"/><circle cx="190.47" cy="94.42" r="3.0" fill="url(#a_orange)"/><circle cx="193.46" cy="97.25" r="3.0" fill="url(#a_orange)"/><circle cx="196.45" cy="100.86" r="3.0" fill="url(#a_orange)"/><circle cx="199.44" cy="105.12" r="3.0" fill="url(#a_orange)"/><circle cx="202.43" cy="109.9" r="3.0" fill="url(#a_orange)"/><circle cx="205.42" cy="115.1" r="3.0" fill="url(#a_orange)"/><circle cx="208.41" cy="120.62" r="3.0" fill="url(#a_orange)"/><circle cx="211.4" cy="126.4" r="3.0" fill="url(#a_orange)"/><circle cx="214.39" cy="132.35" r="3.0" fill="url(#a_orange)"/><circle cx="217.38" cy="138.44" r="3.0" fill="url(#a_orange)"/><circle cx="220.37" cy="144.57" r="3.0" fill="url(#a_orange)"/><circle cx="223.36" cy="150.68" r="3.0" fill="url(#a_orange)"/><circle cx="226.35" cy="156.64" r="3.0" fill="url(#a_orange)"/><circle cx="229.34" cy="162.36" r="3.0" fill="url(#a_orange)"/><circle cx="232.33" cy="167.71" r="3.0" fill="url(#a_orange)"/><circle cx="235.32" cy="172.58" r="3.0" fill="url(#a_orange)"/><circle cx="238.31" cy="176.92" r="3.0" fill="url(#a_orange)"/><circle cx="241.3" cy="180.7" r="3.0" fill="url(#a_orange)"/><circle cx="244.29" cy="183.94" r="3.0" fill="url(#a_orange)"/><circle cx="247.28" cy="186.69" r="3.0" fill="url(#a_orange)"/><circle cx="250.27" cy="189.04" r="3.0" fill="url(#a_orange)"/><circle cx="253.26" cy="191.07" r="3.0" fill="url(#a_orange)"/><circle cx="256.25" cy="192.86" r="3.0" fill="url(#a_orange)"/><circle cx="259.24" cy="194.45" r="3.0" fill="url(#a_orange)"/><circle cx="262.23" cy="195.91" r="3.0" fill="url(#a_orange)"/><circle cx="265.22" cy="197.23" r="3.0" fill="url(#a_orange)"/><circle cx="268.21" cy="198.46" r="3.0" fill="url(#a_orange)"/><circle cx="271.2" cy="199.59" r="3.0" fill="url(#a_orange)"/><circle cx="274.19" cy="200.64" r="3.0" fill="url(#a_orange)"/><circle cx="277.18" cy="201.61" r="3.0" fill="url(#a_orange)"/><circle cx="280.17" cy="202.52" r="3.0" fill="url(#a_orange)"/><circle cx="283.16" cy="203.36" r="3.0" fill="url(#a_orange)"/><circle cx="286.15" cy="204.14" r="3.0" fill="url(#a_orange)"/><circle cx="289.14" cy="204.87" r="3.0" fill="url(#a_orange)"/><circle cx="292.13" cy="205.55" r="3.0" fill="url(#a_orange)"/><circle cx="295.12" cy="206.19" r="3.0" fill="url(#a_orange)"/><circle cx="298.11" cy="206.78" r="3.0" fill="url(#a_orange)"/><circle cx="301.1" cy="207.34" r="3.0" fill="url(#a_orange)"/><circle cx="304.09" cy="207.87" r="3.0" fill="url(#a_orange)"/><circle cx="307.08" cy="208.36" r="3.0" fill="url(#a_orange)"/><circle cx="310.07" cy="208.82" r="3.0" fill="url(#a_orange)"/><circle cx="313.06" cy="209.25" r="3.0" fill="url(#a_orange)"/><circle cx="316.05" cy="209.66" r="3.0" fill="url(#a_orange)"/><circle cx="319.04" cy="210.04" r="3.0" fill="url(#a_orange)"/><circle cx="322.03" cy="210.41" r="3.0" fill="url(#a_orange)"/><circle cx="325.02" cy="210.75" r="3.0" fill="url(#a_orange)"/><circle cx="328.01" cy="211.08" r="3.0" fill="url(#a_orange)"/><circle cx="331" cy="211.38" r="3.0" fill="url(#a_orange)"/><circle cx="333.99" cy="211.67" r="3.0" fill="url(#a_orange)"/><circle cx="336.98" cy="211.95" r="3.0" fill="url(#a_orange)"/>
</g>
<rect x="30.0" y="5.8" width="308.6" height="215.95" fill="none" stroke="#000" stroke-width="2.1"/>
<path d="M30 221.6V217M49.29 221.6V219.4M68.58 221.6V217M87.86 221.6V219.4M107.15 221.6V217M126.44 221.6V219.4M145.73 221.6V217M165.01 221.6V219.4M184.3 221.6V217M203.59 221.6V219.4M222.88 221.6V217M242.16 221.6V219.4M261.45 221.6V217M280.74 221.6V219.4M300.03 221.6V217M319.31 221.6V219.4M338.6 221.6V217" stroke="#000" stroke-width="1.5" fill="none"/>
<text transform="translate(30.9,237.3) scale(1,1.08)" font-size="14.2" text-anchor="middle">490</text>
<text transform="translate(69.48,237.3) scale(1,1.08)" font-size="14.2" text-anchor="middle">500</text>
<text transform="translate(108.05,237.3) scale(1,1.08)" font-size="14.2" text-anchor="middle">510</text>
<text transform="translate(146.63,237.3) scale(1,1.08)" font-size="14.2" text-anchor="middle">520</text>
<text transform="translate(185.2,237.3) scale(1,1.08)" font-size="14.2" text-anchor="middle">530</text>
<text transform="translate(223.78,237.3) scale(1,1.08)" font-size="14.2" text-anchor="middle">540</text>
<text transform="translate(262.35,237.3) scale(1,1.08)" font-size="14.2" text-anchor="middle">550</text>
<text transform="translate(300.93,237.3) scale(1,1.08)" font-size="14.2" text-anchor="middle">560</text>
<text transform="translate(339.5,237.3) scale(1,1.08)" font-size="14.2" text-anchor="middle">570</text>
<text x="184.3" y="253.3" font-size="16.8" text-anchor="middle">Wavelength(nm)</text>
<text transform="translate(23.2,113.5) rotate(-90)" font-size="16.8" text-anchor="middle">PL intensity(a.u.)</text>
<text transform="translate(1,13.6) scale(1,1.07)" font-size="15.3" text-anchor="start">A</text>
<line x1="255.7" y1="18.5" x2="285.7" y2="18.5" stroke="#404040" stroke-width="1.5"/>
<circle cx="270.7" cy="18.5" r="3.0" fill="url(#g_gray)"/>
<text x="288.6" y="22.4" font-size="12.5">0%</text>
<line x1="255.7" y1="34.66" x2="285.7" y2="34.66" stroke="#ec3b41" stroke-width="1.5"/>
<circle cx="270.7" cy="34.66" r="3.0" fill="url(#g_red)"/>
<text x="288.6" y="38.56" font-size="12.5">1.5%</text>
<line x1="255.7" y1="50.82" x2="285.7" y2="50.82" stroke="#1f6fdc" stroke-width="1.5"/>
<circle cx="270.7" cy="50.82" r="3.0" fill="url(#g_blue)"/>
<text x="288.6" y="54.72" font-size="12.5">2.5%</text>
<line x1="255.7" y1="66.98" x2="285.7" y2="66.98" stroke="#2e9e5c" stroke-width="1.5"/>
<circle cx="270.7" cy="66.98" r="3.0" fill="url(#g_green)"/>
<text x="288.6" y="70.88" font-size="12.5">3.0%</text>
<line x1="255.7" y1="83.14" x2="285.7" y2="83.14" stroke="#b07ae8" stroke-width="1.5"/>
<circle cx="270.7" cy="83.14" r="3.0" fill="url(#g_purple)"/>
<text x="288.6" y="87.04" font-size="12.5">3.5%</text>
<line x1="255.7" y1="99.3" x2="285.7" y2="99.3" stroke="#d49a0c" stroke-width="1.5"/>
<circle cx="270.7" cy="99.3" r="3.0" fill="url(#g_orange)"/>
<text x="288.6" y="103.2" font-size="12.5">4.0%</text>
<defs><clipPath id="bc"><rect x="436.2" y="6.2" width="308" height="215.2"/></clipPath></defs>
<g clip-path="url(#bc)">
<polyline points="533.8,221.39 533.8,221.38 533.8,221.38 533.8,221.38 533.8,221.37 533.8,221.36 533.8,221.35 533.8,221.34 533.8,221.32 533.8,221.3 533.8,221.28 533.8,221.25 533.8,221.21 533.8,221.16 533.8,221.1 533.8,221.02 533.8,220.92 533.8,220.8 533.79,220.64 533.79,220.44 533.78,220.19 533.78,219.88 533.76,219.49 533.74,219 533.7,218.37 533.65,217.59 533.56,216.61 533.42,215.38 533.2,213.84 532.85,211.91 532.3,209.53 531.44,206.59 530.11,203.02 528.08,198.76 525.04,193.86 520.61,188.48 514.45,183.03 506.35,178.17 496.51,174.74 485.6,173.5 474.69,174.74 464.85,178.17 456.75,183.03 450.59,188.48 446.16,193.86 443.12,198.76 441.09,203.02 439.76,206.59 438.9,209.53 438.35,211.91 438,213.84 437.78,215.38 437.64,216.61 437.55,217.59 437.5,218.37 437.46,219 437.44,219.49 437.42,219.88 437.42,220.19 437.41,220.44 437.41,220.64 437.4,220.8 437.4,220.92 437.4,221.02 437.4,221.1 437.4,221.16 437.4,221.21 437.4,221.25 437.4,221.28 437.4,221.3 437.4,221.32 437.4,221.34 437.4,221.35 437.4,221.36 437.4,221.37 437.4,221.38 437.4,221.38 437.4,221.38 437.4,221.39" fill="none" stroke="#404040" stroke-width="1.5"/>
<circle cx="533.78" cy="220.19" r="3.2" fill="url(#g_gray)"/><circle cx="533.78" cy="219.88" r="3.2" fill="url(#g_gray)"/><circle cx="533.76" cy="219.49" r="3.2" fill="url(#g_gray)"/><circle cx="533.74" cy="219" r="3.2" fill="url(#g_gray)"/><circle cx="533.7" cy="218.37" r="3.2" fill="url(#g_gray)"/><circle cx="533.65" cy="217.59" r="3.2" fill="url(#g_gray)"/><circle cx="533.56" cy="216.61" r="3.2" fill="url(#g_gray)"/><circle cx="533.42" cy="215.38" r="3.2" fill="url(#g_gray)"/><circle cx="533.2" cy="213.84" r="3.2" fill="url(#g_gray)"/><circle cx="532.85" cy="211.91" r="3.2" fill="url(#g_gray)"/><circle cx="532.3" cy="209.53" r="3.2" fill="url(#g_gray)"/><circle cx="531.44" cy="206.59" r="3.2" fill="url(#g_gray)"/><circle cx="530.11" cy="203.02" r="3.2" fill="url(#g_gray)"/><circle cx="528.08" cy="198.76" r="3.2" fill="url(#g_gray)"/><circle cx="525.04" cy="193.86" r="3.2" fill="url(#g_gray)"/><circle cx="520.61" cy="188.48" r="3.2" fill="url(#g_gray)"/><circle cx="514.45" cy="183.03" r="3.2" fill="url(#g_gray)"/><circle cx="506.35" cy="178.17" r="3.2" fill="url(#g_gray)"/><circle cx="496.51" cy="174.74" r="3.2" fill="url(#g_gray)"/><circle cx="485.6" cy="173.5" r="3.2" fill="url(#g_gray)"/><circle cx="474.69" cy="174.74" r="3.2" fill="url(#g_gray)"/><circle cx="464.85" cy="178.17" r="3.2" fill="url(#g_gray)"/><circle cx="456.75" cy="183.03" r="3.2" fill="url(#g_gray)"/><circle cx="450.59" cy="188.48" r="3.2" fill="url(#g_gray)"/><circle cx="446.16" cy="193.86" r="3.2" fill="url(#g_gray)"/><circle cx="443.12" cy="198.76" r="3.2" fill="url(#g_gray)"/><circle cx="441.09" cy="203.02" r="3.2" fill="url(#g_gray)"/><circle cx="439.76" cy="206.59" r="3.2" fill="url(#g_gray)"/><circle cx="438.9" cy="209.53" r="3.2" fill="url(#g_gray)"/><circle cx="438.35" cy="211.91" r="3.2" fill="url(#g_gray)"/><circle cx="438" cy="213.84" r="3.2" fill="url(#g_gray)"/><circle cx="437.78" cy="215.38" r="3.2" fill="url(#g_gray)"/><circle cx="437.64" cy="216.61" r="3.2" fill="url(#g_gray)"/><circle cx="437.55" cy="217.59" r="3.2" fill="url(#g_gray)"/><circle cx="437.5" cy="218.37" r="3.2" fill="url(#g_gray)"/><circle cx="437.46" cy="219" r="3.2" fill="url(#g_gray)"/><circle cx="437.44" cy="219.49" r="3.2" fill="url(#g_gray)"/><circle cx="437.42" cy="219.88" r="3.2" fill="url(#g_gray)"/><circle cx="437.42" cy="220.19" r="3.2" fill="url(#g_gray)"/><circle cx="437.41" cy="220.44" r="3.2" fill="url(#g_gray)"/><circle cx="437.41" cy="220.64" r="3.2" fill="url(#g_gray)"/><circle cx="437.4" cy="220.8" r="3.2" fill="url(#g_gray)"/><circle cx="437.4" cy="220.92" r="3.2" fill="url(#g_gray)"/><circle cx="437.4" cy="221.02" r="3.2" fill="url(#g_gray)"/><circle cx="437.4" cy="221.1" r="3.2" fill="url(#g_gray)"/><circle cx="437.4" cy="221.16" r="3.2" fill="url(#g_gray)"/><circle cx="437.4" cy="221.21" r="3.2" fill="url(#g_gray)"/><circle cx="437.4" cy="221.25" r="3.2" fill="url(#g_gray)"/><circle cx="437.4" cy="221.28" r="3.2" fill="url(#g_gray)"/><circle cx="437.4" cy="221.3" r="3.2" fill="url(#g_gray)"/><circle cx="437.4" cy="221.32" r="3.2" fill="url(#g_gray)"/><circle cx="437.4" cy="221.34" r="3.2" fill="url(#g_gray)"/><circle cx="437.4" cy="221.35" r="3.2" fill="url(#g_gray)"/><circle cx="437.4" cy="221.36" r="3.2" fill="url(#g_gray)"/><circle cx="437.4" cy="221.37" r="3.2" fill="url(#g_gray)"/><circle cx="437.4" cy="221.38" r="3.2" fill="url(#g_gray)"/><circle cx="437.4" cy="221.38" r="3.2" fill="url(#g_gray)"/><circle cx="437.4" cy="221.38" r="3.2" fill="url(#g_gray)"/><circle cx="437.4" cy="221.39" r="3.2" fill="url(#g_gray)"/>
<polyline points="552.4,221.39 552.4,221.38 552.4,221.38 552.4,221.37 552.4,221.36 552.4,221.35 552.4,221.34 552.4,221.33 552.4,221.31 552.4,221.28 552.4,221.25 552.4,221.22 552.4,221.17 552.4,221.11 552.4,221.04 552.4,220.94 552.4,220.82 552.4,220.67 552.39,220.48 552.39,220.25 552.38,219.95 552.37,219.57 552.35,219.1 552.32,218.51 552.28,217.76 552.21,216.82 552.1,215.64 551.92,214.16 551.64,212.3 551.21,209.99 550.52,207.12 549.44,203.59 547.78,199.31 545.25,194.23 541.46,188.38 535.97,182 528.36,175.6 518.42,169.97 506.42,166.13 493.24,164.91 480.18,166.62 468.49,170.85 458.95,176.68 451.73,183.13 446.57,189.44 443.03,195.17 440.67,200.11 439.13,204.26 438.14,207.66 437.5,210.43 437.1,212.65 436.84,214.44 436.68,215.86 436.58,217 436.51,217.9 436.47,218.62 436.44,219.19 436.43,219.64 436.42,220.01 436.41,220.29 436.41,220.52 436.4,220.7 436.4,220.84 436.4,220.96 436.4,221.05 436.4,221.12 436.4,221.18 436.4,221.22 436.4,221.26 436.4,221.29 436.4,221.31 436.4,221.33 436.4,221.34 436.4,221.36 436.4,221.36 436.4,221.37 436.4,221.38 436.4,221.38" fill="none" stroke="#ec3b41" stroke-width="1.5"/>
<circle cx="552.39" cy="220.25" r="3.2" fill="url(#g_red)"/><circle cx="552.38" cy="219.95" r="3.2" fill="url(#g_red)"/><circle cx="552.37" cy="219.57" r="3.2" fill="url(#g_red)"/><circle cx="552.35" cy="219.1" r="3.2" fill="url(#g_red)"/><circle cx="552.32" cy="218.51" r="3.2" fill="url(#g_red)"/><circle cx="552.28" cy="217.76" r="3.2" fill="url(#g_red)"/><circle cx="552.21" cy="216.82" r="3.2" fill="url(#g_red)"/><circle cx="552.1" cy="215.64" r="3.2" fill="url(#g_red)"/><circle cx="551.92" cy="214.16" r="3.2" fill="url(#g_red)"/><circle cx="551.64" cy="212.3" r="3.2" fill="url(#g_red)"/><circle cx="551.21" cy="209.99" r="3.2" fill="url(#g_red)"/><circle cx="550.52" cy="207.12" r="3.2" fill="url(#g_red)"/><circle cx="549.44" cy="203.59" r="3.2" fill="url(#g_red)"/><circle cx="547.78" cy="199.31" r="3.2" fill="url(#g_red)"/><circle cx="545.25" cy="194.23" r="3.2" fill="url(#g_red)"/><circle cx="541.46" cy="188.38" r="3.2" fill="url(#g_red)"/><circle cx="535.97" cy="182" r="3.2" fill="url(#g_red)"/><circle cx="528.36" cy="175.6" r="3.2" fill="url(#g_red)"/><circle cx="518.42" cy="169.97" r="3.2" fill="url(#g_red)"/><circle cx="506.42" cy="166.13" r="3.2" fill="url(#g_red)"/><circle cx="493.24" cy="164.91" r="3.2" fill="url(#g_red)"/><circle cx="480.18" cy="166.62" r="3.2" fill="url(#g_red)"/><circle cx="468.49" cy="170.85" r="3.2" fill="url(#g_red)"/><circle cx="458.95" cy="176.68" r="3.2" fill="url(#g_red)"/><circle cx="451.73" cy="183.13" r="3.2" fill="url(#g_red)"/><circle cx="446.57" cy="189.44" r="3.2" fill="url(#g_red)"/><circle cx="443.03" cy="195.17" r="3.2" fill="url(#g_red)"/><circle cx="440.67" cy="200.11" r="3.2" fill="url(#g_red)"/><circle cx="439.13" cy="204.26" r="3.2" fill="url(#g_red)"/><circle cx="438.14" cy="207.66" r="3.2" fill="url(#g_red)"/><circle cx="437.5" cy="210.43" r="3.2" fill="url(#g_red)"/><circle cx="437.1" cy="212.65" r="3.2" fill="url(#g_red)"/><circle cx="436.84" cy="214.44" r="3.2" fill="url(#g_red)"/><circle cx="436.68" cy="215.86" r="3.2" fill="url(#g_red)"/><circle cx="436.58" cy="217" r="3.2" fill="url(#g_red)"/><circle cx="436.51" cy="217.9" r="3.2" fill="url(#g_red)"/><circle cx="436.47" cy="218.62" r="3.2" fill="url(#g_red)"/><circle cx="436.44" cy="219.19" r="3.2" fill="url(#g_red)"/><circle cx="436.43" cy="219.64" r="3.2" fill="url(#g_red)"/><circle cx="436.42" cy="220.01" r="3.2" fill="url(#g_red)"/><circle cx="436.41" cy="220.29" r="3.2" fill="url(#g_red)"/><circle cx="436.41" cy="220.52" r="3.2" fill="url(#g_red)"/><circle cx="436.4" cy="220.7" r="3.2" fill="url(#g_red)"/><circle cx="436.4" cy="220.84" r="3.2" fill="url(#g_red)"/><circle cx="436.4" cy="220.96" r="3.2" fill="url(#g_red)"/><circle cx="436.4" cy="221.05" r="3.2" fill="url(#g_red)"/><circle cx="436.4" cy="221.12" r="3.2" fill="url(#g_red)"/><circle cx="436.4" cy="221.18" r="3.2" fill="url(#g_red)"/><circle cx="436.4" cy="221.22" r="3.2" fill="url(#g_red)"/><circle cx="436.4" cy="221.26" r="3.2" fill="url(#g_red)"/><circle cx="436.4" cy="221.29" r="3.2" fill="url(#g_red)"/><circle cx="436.4" cy="221.31" r="3.2" fill="url(#g_red)"/><circle cx="436.4" cy="221.33" r="3.2" fill="url(#g_red)"/><circle cx="436.4" cy="221.34" r="3.2" fill="url(#g_red)"/><circle cx="436.4" cy="221.36" r="3.2" fill="url(#g_red)"/><circle cx="436.4" cy="221.36" r="3.2" fill="url(#g_red)"/><circle cx="436.4" cy="221.37" r="3.2" fill="url(#g_red)"/><circle cx="436.4" cy="221.38" r="3.2" fill="url(#g_red)"/><circle cx="436.4" cy="221.38" r="3.2" fill="url(#g_red)"/>
<path d="M592.8,221.38 592.8,221.37 592.8,221.36 592.8,221.36 592.8,221.34 592.8,221.33 592.8,221.31 592.8,221.29 592.8,221.26 592.8,221.22 592.8,221.18 592.8,221.12 592.8,221.04 592.8,220.95 592.8,220.84 592.8,220.69 592.79,220.5 592.79,220.27 592.79,219.98 592.78,219.61 592.77,219.15 592.75,218.57 592.71,217.84 592.67,216.92 592.59,215.76 592.46,214.3 592.26,212.48 591.95,210.19 591.46,207.33 590.69,203.78 589.48,199.39 587.6,194.04 584.72,187.62 580.38,180.12 573.99,171.76 564.96,163.03 552.86,154.89 537.77,148.61 520.55,145.49 502.77,146.26 486.23,150.75 472.25,157.92 461.37,166.43 453.44,175.1 447.92,183.16 C445.92,191.16 441.4,206 441.2,222" fill="none" stroke="#1f6fdc" stroke-width="1.5"/>
<circle cx="592.78" cy="219.61" r="3.2" fill="url(#g_blue)"/><circle cx="592.77" cy="219.15" r="3.2" fill="url(#g_blue)"/><circle cx="592.75" cy="218.57" r="3.2" fill="url(#g_blue)"/><circle cx="592.71" cy="217.84" r="3.2" fill="url(#g_blue)"/><circle cx="592.67" cy="216.92" r="3.2" fill="url(#g_blue)"/><circle cx="592.59" cy="215.76" r="3.2" fill="url(#g_blue)"/><circle cx="592.46" cy="214.3" r="3.2" fill="url(#g_blue)"/><circle cx="592.26" cy="212.48" r="3.2" fill="url(#g_blue)"/><circle cx="591.95" cy="210.19" r="3.2" fill="url(#g_blue)"/><circle cx="591.46" cy="207.33" r="3.2" fill="url(#g_blue)"/><circle cx="590.69" cy="203.78" r="3.2" fill="url(#g_blue)"/><circle cx="589.48" cy="199.39" r="3.2" fill="url(#g_blue)"/><circle cx="587.6" cy="194.04" r="3.2" fill="url(#g_blue)"/><circle cx="584.72" cy="187.62" r="3.2" fill="url(#g_blue)"/><circle cx="580.38" cy="180.12" r="3.2" fill="url(#g_blue)"/><circle cx="573.99" cy="171.76" r="3.2" fill="url(#g_blue)"/><circle cx="564.96" cy="163.03" r="3.2" fill="url(#g_blue)"/><circle cx="552.86" cy="154.89" r="3.2" fill="url(#g_blue)"/><circle cx="537.77" cy="148.61" r="3.2" fill="url(#g_blue)"/><circle cx="520.55" cy="145.49" r="3.2" fill="url(#g_blue)"/><circle cx="502.77" cy="146.26" r="3.2" fill="url(#g_blue)"/><circle cx="486.23" cy="150.75" r="3.2" fill="url(#g_blue)"/><circle cx="472.25" cy="157.92" r="3.2" fill="url(#g_blue)"/><circle cx="461.37" cy="166.43" r="3.2" fill="url(#g_blue)"/><circle cx="453.44" cy="175.1" r="3.2" fill="url(#g_blue)"/><circle cx="447.92" cy="183.16" r="3.2" fill="url(#g_blue)"/>
<polyline points="701.9,221.37 701.9,221.36 701.9,221.35 701.9,221.33 701.9,221.31 701.9,221.29 701.9,221.26 701.9,221.23 701.9,221.18 701.9,221.13 701.9,221.06 701.9,220.97 701.9,220.86 701.9,220.72 701.9,220.54 701.9,220.32 701.89,220.04 701.89,219.68 701.88,219.24 701.87,218.68 701.85,217.98 701.83,217.09 701.78,215.97 701.71,214.57 701.6,212.8 701.43,210.59 701.16,207.8 700.73,204.31 700.04,199.94 698.97,194.49 697.28,187.74 694.66,179.45 690.6,169.41 684.43,157.54 675.24,143.98 661.98,129.33 643.74,114.84 620.17,102.46 592.1,94.48 561.72,92.69 532.08,97.54 505.93,107.86 484.84,121.51 469.03,136.27 457.81,150.52 450.16,163.34 445.08,174.35 441.77,183.54 439.63,191.08 438.27,197.19 437.4,202.11 436.85,206.04 436.5,209.19 436.28,211.69 436.14,213.68 436.05,215.27 436,216.53 435.96,217.53 435.94,218.33 435.92,218.96 435.92,219.46 435.91,219.86 435.91,220.18 435.9,220.43 435.9,220.63 435.9,220.79 435.9,220.91 435.9,221.01 435.9,221.09 435.9,221.16 435.9,221.21 435.9,221.25 435.9,221.28 435.9,221.3 435.9,221.32 435.9,221.34 435.9,221.35 435.9,221.36" fill="none" stroke="#2e9e5c" stroke-width="1.5"/>
<circle cx="701.87" cy="218.68" r="3.2" fill="url(#g_green)"/><circle cx="701.85" cy="217.98" r="3.2" fill="url(#g_green)"/><circle cx="701.83" cy="217.09" r="3.2" fill="url(#g_green)"/><circle cx="701.78" cy="215.97" r="3.2" fill="url(#g_green)"/><circle cx="701.71" cy="214.57" r="3.2" fill="url(#g_green)"/><circle cx="701.6" cy="212.8" r="3.2" fill="url(#g_green)"/><circle cx="701.43" cy="210.59" r="3.2" fill="url(#g_green)"/><circle cx="701.16" cy="207.8" r="3.2" fill="url(#g_green)"/><circle cx="700.73" cy="204.31" r="3.2" fill="url(#g_green)"/><circle cx="700.04" cy="199.94" r="3.2" fill="url(#g_green)"/><circle cx="698.97" cy="194.49" r="3.2" fill="url(#g_green)"/><circle cx="697.28" cy="187.74" r="3.2" fill="url(#g_green)"/><circle cx="694.66" cy="179.45" r="3.2" fill="url(#g_green)"/><circle cx="690.6" cy="169.41" r="3.2" fill="url(#g_green)"/><circle cx="684.43" cy="157.54" r="3.2" fill="url(#g_green)"/><circle cx="675.24" cy="143.98" r="3.2" fill="url(#g_green)"/><circle cx="661.98" cy="129.33" r="3.2" fill="url(#g_green)"/><circle cx="643.74" cy="114.84" r="3.2" fill="url(#g_green)"/><circle cx="620.17" cy="102.46" r="3.2" fill="url(#g_green)"/><circle cx="592.1" cy="94.48" r="3.2" fill="url(#g_green)"/><circle cx="561.72" cy="92.69" r="3.2" fill="url(#g_green)"/><circle cx="532.08" cy="97.54" r="3.2" fill="url(#g_green)"/><circle cx="505.93" cy="107.86" r="3.2" fill="url(#g_green)"/><circle cx="484.84" cy="121.51" r="3.2" fill="url(#g_green)"/><circle cx="469.03" cy="136.27" r="3.2" fill="url(#g_green)"/><circle cx="457.81" cy="150.52" r="3.2" fill="url(#g_green)"/><circle cx="450.16" cy="163.34" r="3.2" fill="url(#g_green)"/><circle cx="445.08" cy="174.35" r="3.2" fill="url(#g_green)"/><circle cx="441.77" cy="183.54" r="3.2" fill="url(#g_green)"/><circle cx="439.63" cy="191.08" r="3.2" fill="url(#g_green)"/><circle cx="438.27" cy="197.19" r="3.2" fill="url(#g_green)"/><circle cx="437.4" cy="202.11" r="3.2" fill="url(#g_green)"/><circle cx="436.85" cy="206.04" r="3.2" fill="url(#g_green)"/><circle cx="436.5" cy="209.19" r="3.2" fill="url(#g_green)"/><circle cx="436.28" cy="211.69" r="3.2" fill="url(#g_green)"/><circle cx="436.14" cy="213.68" r="3.2" fill="url(#g_green)"/><circle cx="436.05" cy="215.27" r="3.2" fill="url(#g_green)"/><circle cx="436" cy="216.53" r="3.2" fill="url(#g_green)"/><circle cx="435.96" cy="217.53" r="3.2" fill="url(#g_green)"/><circle cx="435.94" cy="218.33" r="3.2" fill="url(#g_green)"/><circle cx="435.92" cy="218.96" r="3.2" fill="url(#g_green)"/><circle cx="435.92" cy="219.46" r="3.2" fill="url(#g_green)"/><circle cx="435.91" cy="219.86" r="3.2" fill="url(#g_green)"/><circle cx="435.91" cy="220.18" r="3.2" fill="url(#g_green)"/><circle cx="435.9" cy="220.43" r="3.2" fill="url(#g_green)"/><circle cx="435.9" cy="220.63" r="3.2" fill="url(#g_green)"/><circle cx="435.9" cy="220.79" r="3.2" fill="url(#g_green)"/><circle cx="435.9" cy="220.91" r="3.2" fill="url(#g_green)"/><circle cx="435.9" cy="221.01" r="3.2" fill="url(#g_green)"/><circle cx="435.9" cy="221.09" r="3.2" fill="url(#g_green)"/><circle cx="435.9" cy="221.16" r="3.2" fill="url(#g_green)"/><circle cx="435.9" cy="221.21" r="3.2" fill="url(#g_green)"/><circle cx="435.9" cy="221.25" r="3.2" fill="url(#g_green)"/><circle cx="435.9" cy="221.28" r="3.2" fill="url(#g_green)"/><circle cx="435.9" cy="221.3" r="3.2" fill="url(#g_green)"/><circle cx="435.9" cy="221.32" r="3.2" fill="url(#g_green)"/><circle cx="435.9" cy="221.34" r="3.2" fill="url(#g_green)"/><circle cx="435.9" cy="221.35" r="3.2" fill="url(#g_green)"/><circle cx="435.9" cy="221.36" r="3.2" fill="url(#g_green)"/>
<polyline points="672.2,221.37 672.2,221.36 672.2,221.35 672.2,221.34 672.2,221.32 672.2,221.3 672.2,221.27 672.2,221.24 672.2,221.2 672.2,221.14 672.2,221.08 672.2,220.99 672.2,220.89 672.2,220.75 672.2,220.59 672.2,220.38 672.19,220.11 672.19,219.78 672.18,219.36 672.17,218.83 672.15,218.16 672.13,217.32 672.08,216.27 672.02,214.94 671.91,213.27 671.74,211.17 671.47,208.54 671.04,205.24 670.37,201.11 669.31,195.98 667.65,189.62 665.07,181.84 661.09,172.47 655.07,161.45 646.16,149.02 633.44,135.82 616.18,123.14 594.28,112.84 568.76,106.93 541.83,106.79 516.19,112.47 494.1,122.62 476.62,135.23 463.72,148.44 454.66,160.93 448.53,172.01 444.48,181.46 441.84,189.31 440.15,195.72 439.07,200.91 438.38,205.07 437.95,208.41 437.67,211.07 437.5,213.19 437.39,214.87 437.32,216.21 437.28,217.28 437.25,218.13 437.23,218.8 437.22,219.33 437.21,219.76 437.21,220.1 437.2,220.36 437.2,220.58 437.2,220.75 437.2,220.88 437.2,220.99 437.2,221.07 437.2,221.14 437.2,221.19 437.2,221.24 437.2,221.27 437.2,221.3 437.2,221.32 437.2,221.33 437.2,221.35 437.2,221.36 437.2,221.37" fill="none" stroke="#b07ae8" stroke-width="1.5"/>
<circle cx="672.17" cy="218.83" r="3.2" fill="url(#g_purple)"/><circle cx="672.15" cy="218.16" r="3.2" fill="url(#g_purple)"/><circle cx="672.13" cy="217.32" r="3.2" fill="url(#g_purple)"/><circle cx="672.08" cy="216.27" r="3.2" fill="url(#g_purple)"/><circle cx="672.02" cy="214.94" r="3.2" fill="url(#g_purple)"/><circle cx="671.91" cy="213.27" r="3.2" fill="url(#g_purple)"/><circle cx="671.74" cy="211.17" r="3.2" fill="url(#g_purple)"/><circle cx="671.47" cy="208.54" r="3.2" fill="url(#g_purple)"/><circle cx="671.04" cy="205.24" r="3.2" fill="url(#g_purple)"/><circle cx="670.37" cy="201.11" r="3.2" fill="url(#g_purple)"/><circle cx="669.31" cy="195.98" r="3.2" fill="url(#g_purple)"/><circle cx="667.65" cy="189.62" r="3.2" fill="url(#g_purple)"/><circle cx="665.07" cy="181.84" r="3.2" fill="url(#g_purple)"/><circle cx="661.09" cy="172.47" r="3.2" fill="url(#g_purple)"/><circle cx="655.07" cy="161.45" r="3.2" fill="url(#g_purple)"/><circle cx="646.16" cy="149.02" r="3.2" fill="url(#g_purple)"/><circle cx="633.44" cy="135.82" r="3.2" fill="url(#g_purple)"/><circle cx="616.18" cy="123.14" r="3.2" fill="url(#g_purple)"/><circle cx="594.28" cy="112.84" r="3.2" fill="url(#g_purple)"/><circle cx="568.76" cy="106.93" r="3.2" fill="url(#g_purple)"/><circle cx="541.83" cy="106.79" r="3.2" fill="url(#g_purple)"/><circle cx="516.19" cy="112.47" r="3.2" fill="url(#g_purple)"/><circle cx="494.1" cy="122.62" r="3.2" fill="url(#g_purple)"/><circle cx="476.62" cy="135.23" r="3.2" fill="url(#g_purple)"/><circle cx="463.72" cy="148.44" r="3.2" fill="url(#g_purple)"/><circle cx="454.66" cy="160.93" r="3.2" fill="url(#g_purple)"/><circle cx="448.53" cy="172.01" r="3.2" fill="url(#g_purple)"/><circle cx="444.48" cy="181.46" r="3.2" fill="url(#g_purple)"/><circle cx="441.84" cy="189.31" r="3.2" fill="url(#g_purple)"/><circle cx="440.15" cy="195.72" r="3.2" fill="url(#g_purple)"/><circle cx="439.07" cy="200.91" r="3.2" fill="url(#g_purple)"/><circle cx="438.38" cy="205.07" r="3.2" fill="url(#g_purple)"/><circle cx="437.95" cy="208.41" r="3.2" fill="url(#g_purple)"/><circle cx="437.67" cy="211.07" r="3.2" fill="url(#g_purple)"/><circle cx="437.5" cy="213.19" r="3.2" fill="url(#g_purple)"/><circle cx="437.39" cy="214.87" r="3.2" fill="url(#g_purple)"/><circle cx="437.32" cy="216.21" r="3.2" fill="url(#g_purple)"/><circle cx="437.28" cy="217.28" r="3.2" fill="url(#g_purple)"/><circle cx="437.25" cy="218.13" r="3.2" fill="url(#g_purple)"/><circle cx="437.23" cy="218.8" r="3.2" fill="url(#g_purple)"/><circle cx="437.22" cy="219.33" r="3.2" fill="url(#g_purple)"/><circle cx="437.21" cy="219.76" r="3.2" fill="url(#g_purple)"/><circle cx="437.21" cy="220.1" r="3.2" fill="url(#g_purple)"/><circle cx="437.2" cy="220.36" r="3.2" fill="url(#g_purple)"/><circle cx="437.2" cy="220.58" r="3.2" fill="url(#g_purple)"/><circle cx="437.2" cy="220.75" r="3.2" fill="url(#g_purple)"/><circle cx="437.2" cy="220.88" r="3.2" fill="url(#g_purple)"/><circle cx="437.2" cy="220.99" r="3.2" fill="url(#g_purple)"/><circle cx="437.2" cy="221.07" r="3.2" fill="url(#g_purple)"/><circle cx="437.2" cy="221.14" r="3.2" fill="url(#g_purple)"/><circle cx="437.2" cy="221.19" r="3.2" fill="url(#g_purple)"/><circle cx="437.2" cy="221.24" r="3.2" fill="url(#g_purple)"/><circle cx="437.2" cy="221.27" r="3.2" fill="url(#g_purple)"/><circle cx="437.2" cy="221.3" r="3.2" fill="url(#g_purple)"/><circle cx="437.2" cy="221.32" r="3.2" fill="url(#g_purple)"/><circle cx="437.2" cy="221.33" r="3.2" fill="url(#g_purple)"/><circle cx="437.2" cy="221.35" r="3.2" fill="url(#g_purple)"/><circle cx="437.2" cy="221.36" r="3.2" fill="url(#g_purple)"/><circle cx="437.2" cy="221.37" r="3.2" fill="url(#g_purple)"/>
<polyline points="612.9,221.38 612.9,221.37 612.9,221.37 612.9,221.36 612.9,221.35 612.9,221.33 612.9,221.31 612.9,221.29 612.9,221.26 612.9,221.23 612.9,221.18 612.9,221.12 612.9,221.05 612.9,220.96 612.9,220.85 612.9,220.71 612.9,220.53 612.89,220.3 612.89,220.02 612.88,219.66 612.87,219.21 612.85,218.64 612.83,217.93 612.79,217.04 612.72,215.91 612.61,214.49 612.45,212.71 612.18,210.47 611.76,207.68 611.11,204.19 610.07,199.86 608.46,194.53 605.97,188.07 602.16,180.38 596.45,171.52 588.18,161.85 576.68,152.09 561.63,143.47 543.41,137.51 523.34,135.51 503.37,137.96 485.44,144.27 470.76,153.08 459.62,162.88 451.64,172.49 446.17,181.23 442.52,188.8 440.14,195.14 438.6,200.36 437.61,204.59 436.98,208 436.59,210.73 436.33,212.91 436.17,214.65 436.07,216.04 436.01,217.14 435.97,218.01 435.94,218.71 435.93,219.26 435.92,219.7 435.91,220.05 435.91,220.33 435.9,220.55 435.9,220.72 435.9,220.86 435.9,220.97 435.9,221.06 435.9,221.13 435.9,221.19 435.9,221.23 435.9,221.27 435.9,221.29 435.9,221.31 435.9,221.33 435.9,221.35 435.9,221.36 435.9,221.37 435.9,221.37 435.9,221.38" fill="none" stroke="#d49a0c" stroke-width="1.5"/>
<circle cx="612.88" cy="219.66" r="3.2" fill="url(#g_orange)"/><circle cx="612.87" cy="219.21" r="3.2" fill="url(#g_orange)"/><circle cx="612.85" cy="218.64" r="3.2" fill="url(#g_orange)"/><circle cx="612.83" cy="217.93" r="3.2" fill="url(#g_orange)"/><circle cx="612.79" cy="217.04" r="3.2" fill="url(#g_orange)"/><circle cx="612.72" cy="215.91" r="3.2" fill="url(#g_orange)"/><circle cx="612.61" cy="214.49" r="3.2" fill="url(#g_orange)"/><circle cx="612.45" cy="212.71" r="3.2" fill="url(#g_orange)"/><circle cx="612.18" cy="210.47" r="3.2" fill="url(#g_orange)"/><circle cx="611.76" cy="207.68" r="3.2" fill="url(#g_orange)"/><circle cx="611.11" cy="204.19" r="3.2" fill="url(#g_orange)"/><circle cx="610.07" cy="199.86" r="3.2" fill="url(#g_orange)"/><circle cx="608.46" cy="194.53" r="3.2" fill="url(#g_orange)"/><circle cx="605.97" cy="188.07" r="3.2" fill="url(#g_orange)"/><circle cx="602.16" cy="180.38" r="3.2" fill="url(#g_orange)"/><circle cx="596.45" cy="171.52" r="3.2" fill="url(#g_orange)"/><circle cx="588.18" cy="161.85" r="3.2" fill="url(#g_orange)"/><circle cx="576.68" cy="152.09" r="3.2" fill="url(#g_orange)"/><circle cx="561.63" cy="143.47" r="3.2" fill="url(#g_orange)"/><circle cx="543.41" cy="137.51" r="3.2" fill="url(#g_orange)"/><circle cx="523.34" cy="135.51" r="3.2" fill="url(#g_orange)"/><circle cx="503.37" cy="137.96" r="3.2" fill="url(#g_orange)"/><circle cx="485.44" cy="144.27" r="3.2" fill="url(#g_orange)"/><circle cx="470.76" cy="153.08" r="3.2" fill="url(#g_orange)"/><circle cx="459.62" cy="162.88" r="3.2" fill="url(#g_orange)"/><circle cx="451.64" cy="172.49" r="3.2" fill="url(#g_orange)"/><circle cx="446.17" cy="181.23" r="3.2" fill="url(#g_orange)"/><circle cx="442.52" cy="188.8" r="3.2" fill="url(#g_orange)"/><circle cx="440.14" cy="195.14" r="3.2" fill="url(#g_orange)"/><circle cx="438.6" cy="200.36" r="3.2" fill="url(#g_orange)"/><circle cx="437.61" cy="204.59" r="3.2" fill="url(#g_orange)"/><circle cx="436.98" cy="208" r="3.2" fill="url(#g_orange)"/><circle cx="436.59" cy="210.73" r="3.2" fill="url(#g_orange)"/><circle cx="436.33" cy="212.91" r="3.2" fill="url(#g_orange)"/><circle cx="436.17" cy="214.65" r="3.2" fill="url(#g_orange)"/><circle cx="436.07" cy="216.04" r="3.2" fill="url(#g_orange)"/><circle cx="436.01" cy="217.14" r="3.2" fill="url(#g_orange)"/><circle cx="435.97" cy="218.01" r="3.2" fill="url(#g_orange)"/><circle cx="435.94" cy="218.71" r="3.2" fill="url(#g_orange)"/><circle cx="435.93" cy="219.26" r="3.2" fill="url(#g_orange)"/><circle cx="435.92" cy="219.7" r="3.2" fill="url(#g_orange)"/><circle cx="435.91" cy="220.05" r="3.2" fill="url(#g_orange)"/><circle cx="435.91" cy="220.33" r="3.2" fill="url(#g_orange)"/><circle cx="435.9" cy="220.55" r="3.2" fill="url(#g_orange)"/><circle cx="435.9" cy="220.72" r="3.2" fill="url(#g_orange)"/><circle cx="435.9" cy="220.86" r="3.2" fill="url(#g_orange)"/><circle cx="435.9" cy="220.97" r="3.2" fill="url(#g_orange)"/><circle cx="435.9" cy="221.06" r="3.2" fill="url(#g_orange)"/><circle cx="435.9" cy="221.13" r="3.2" fill="url(#g_orange)"/><circle cx="435.9" cy="221.19" r="3.2" fill="url(#g_orange)"/><circle cx="435.9" cy="221.23" r="3.2" fill="url(#g_orange)"/><circle cx="435.9" cy="221.27" r="3.2" fill="url(#g_orange)"/><circle cx="435.9" cy="221.29" r="3.2" fill="url(#g_orange)"/><circle cx="435.9" cy="221.31" r="3.2" fill="url(#g_orange)"/><circle cx="435.9" cy="221.33" r="3.2" fill="url(#g_orange)"/><circle cx="435.9" cy="221.35" r="3.2" fill="url(#g_orange)"/><circle cx="435.9" cy="221.36" r="3.2" fill="url(#g_orange)"/><circle cx="435.9" cy="221.37" r="3.2" fill="url(#g_orange)"/><circle cx="435.9" cy="221.37" r="3.2" fill="url(#g_orange)"/><circle cx="435.9" cy="221.38" r="3.2" fill="url(#g_orange)"/>
</g>
<rect x="436.2" y="6.2" width="308" height="215.55" fill="none" stroke="#000" stroke-width="2.1"/>
<path d="M436.2 221.4V217.2M463.7 221.4V218.9M491.2 221.4V217.2M518.7 221.4V218.9M546.2 221.4V217.2M573.7 221.4V218.9M601.2 221.4V217.2M628.7 221.4V218.9M656.2 221.4V217.2M683.7 221.4V218.9M711.2 221.4V217.2M738.7 221.4V218.9M436.2 221.4H441M436.2 199.88H439M436.2 178.36H441M436.2 156.84H439M436.2 135.32H441M436.2 113.8H439M436.2 92.28H441M436.2 70.76H439M436.2 49.24H441M436.2 27.72H439M436.2 6.2H441" stroke="#000" stroke-width="1.5" fill="none"/>
<text transform="translate(436.7,237.3) scale(1,1.08)" font-size="14.2" text-anchor="middle">0</text>
<text transform="translate(491.7,237.3) scale(1,1.08)" font-size="14.2" text-anchor="middle">5000</text>
<text transform="translate(546.7,237.3) scale(1,1.08)" font-size="14.2" text-anchor="middle">10000</text>
<text transform="translate(601.7,237.3) scale(1,1.08)" font-size="14.2" text-anchor="middle">15000</text>
<text transform="translate(656.7,237.3) scale(1,1.08)" font-size="14.2" text-anchor="middle">20000</text>
<text transform="translate(711.7,237.3) scale(1,1.08)" font-size="14.2" text-anchor="middle">25000</text>
<text transform="translate(433,228.9) scale(1,1.04)" font-size="14.2" text-anchor="end">0</text>
<text transform="translate(433,185.86) scale(1,1.04)" font-size="14.2" text-anchor="end">4000</text>
<text transform="translate(433,142.82) scale(1,1.04)" font-size="14.2" text-anchor="end">8000</text>
<text transform="translate(433,99.78) scale(1,1.04)" font-size="14.2" text-anchor="end">12000</text>
<text transform="translate(433,56.74) scale(1,1.04)" font-size="14.2" text-anchor="end">16000</text>
<text transform="translate(433,13.7) scale(1,1.04)" font-size="14.2" text-anchor="end">20000</text>
<text x="586.5" y="253.5" font-size="16.8" text-anchor="middle">Z'/ohm</text>
<text transform="translate(388.4,113.2) rotate(-90)" font-size="16.8" text-anchor="middle">-Z''/ohm</text>
<text transform="translate(371.2,13.4) scale(1,1.07)" font-size="15.3" text-anchor="start">B</text>
<line x1="440" y1="16.5" x2="470" y2="16.5" stroke="#404040" stroke-width="1.5"/>
<circle cx="455.2" cy="16.5" r="3.1" fill="url(#g_gray)"/>
<text x="476.6" y="21.2" font-size="12.5">0%</text>
<line x1="440" y1="32.7" x2="470" y2="32.7" stroke="#ec3b41" stroke-width="1.5"/>
<circle cx="455.2" cy="32.7" r="3.1" fill="url(#g_red)"/>
<text x="473.7" y="37.4" font-size="12.5">1.5%</text>
<line x1="440" y1="48.9" x2="470" y2="48.9" stroke="#1f6fdc" stroke-width="1.5"/>
<circle cx="455.2" cy="48.9" r="3.1" fill="url(#g_blue)"/>
<text x="473.7" y="53.6" font-size="12.5">2.5%</text>
<line x1="440" y1="65.1" x2="470" y2="65.1" stroke="#2e9e5c" stroke-width="1.5"/>
<circle cx="455.2" cy="65.1" r="3.1" fill="url(#g_green)"/>
<text x="473.7" y="69.8" font-size="12.5">3.0%</text>
<line x1="440" y1="81.3" x2="470" y2="81.3" stroke="#b07ae8" stroke-width="1.5"/>
<circle cx="455.2" cy="81.3" r="3.1" fill="url(#g_purple)"/>
<text x="473.7" y="86" font-size="12.5">3.5%</text>
<line x1="440" y1="97.5" x2="470" y2="97.5" stroke="#d49a0c" stroke-width="1.5"/>
<circle cx="455.2" cy="97.5" r="3.1" fill="url(#g_orange)"/>
<text x="473.7" y="102.2" font-size="12.5">4.0%</text>
<g fill="none" stroke="#111" stroke-width="1.1" stroke-linejoin="miter">
<path d="M508.9 36.4H517.4L519.7 38.9L525.5 33.6L531.3 38.9L536.7 33.6L539.8 36.4H566.9L569.6 39.1L574.3 33.6L579 39.1L583.8 33.6L588.5 36.4H612"/>
<path d="M558.4 36.4V52.8H575.4M580.8 52.8H597.3V36.4"/>
<path d="M575.6 49.5V56M580.6 49.5V56"/>
</g>
<circle cx="558.4" cy="36.3" r="2.7" fill="#111"/>
<text x="528" y="31.2" font-size="6" font-weight="bold" text-anchor="middle" fill="#333">Rs</text>
<text x="577.8" y="30.8" font-size="6" text-anchor="middle" fill="#333">Rrec</text>
<text x="577.8" y="47.8" font-size="6" text-anchor="middle" fill="#333">C1</text>
<defs><clipPath id="ic"><rect x="634.3" y="11.3" width="103" height="74.9"/></clipPath></defs>
<g clip-path="url(#ic)">
<polyline points="851.53,16.7 842.01,17.83 832.8,18.99 823.91,20.16 815.33,21.36 807.07,22.56 799.11,23.78 791.46,25.01 784.11,26.24 777.05,27.47 770.29,28.71 763.81,29.94 757.61,31.17 751.68,32.4 746.01,33.62 740.6,34.83 735.44,36.03 730.51,37.22 725.82,38.39 721.36,39.55 717.1,40.7 713.06,41.83 709.21,42.94 705.56,44.04 702.09,45.11 698.8,46.17 695.67,47.21 692.7,48.23 689.89,49.23 687.23,50.22 684.7,51.18 682.31,52.12 680.05,53.04 677.9,53.94 675.88,54.82 673.96,55.68 672.14,56.52 670.43,57.34 668.81,58.14 667.27,58.92 665.82,59.69 664.45,60.43 663.16,61.16 661.94,61.86 660.79,62.55 659.7,63.22 658.67,63.87 657.7,64.51 656.79,65.13 655.92,65.73 655.11,66.32 654.34,66.89 653.61,67.45 652.93,67.99 652.28,68.51 651.67,69.02 651.1,69.52 650.56,70 650.05,70.47 649.57,70.93 649.11,71.37 648.69,71.8 648.28,72.22 647.9,72.63 647.55,73.03 647.21,73.41 646.89,73.79 646.59,74.15 646.31,74.5 646.04,74.84 645.79,75.18 645.56,75.5 645.33,75.81 645.12,76.12 644.92,76.41 644.74,76.7 644.56,76.98 644.4,77.25 644.24,77.51 644.1,77.77 643.96,78.02 643.83,78.26 643.7,78.49 643.59,78.72 643.48,78.94 643.38,79.15 643.28,79.36 643.19,79.56 643.1,79.76 643.02,79.95 642.95,80.13 642.88,80.31 642.81,80.48 642.74,80.65 642.68,80.82 642.63,80.97 642.58,81.13 642.53,81.28 642.48,81.42 642.43,81.56 642.39,81.7 642.35,81.83 642.32,81.96 642.28,82.09 642.25,82.21 642.22,82.33 642.19,82.44 642.16,82.55 642.13,82.66 642.11,82.76 642.09,82.87 642.07,82.96 642.05,83.06 642.03,83.15 642.01,83.24 641.99,83.33 641.98,83.41 641.96,83.5 641.95,83.58 641.93,83.65 641.92,83.73 641.91,83.8 641.9,83.87 641.89,83.94 641.88,84.01 641.87,84.07 641.86,84.14 641.85,84.2 641.84,84.26 641.83,84.31 641.83,84.37 641.82,84.42 641.82,84.48 641.81,84.53 641.8,84.58 641.8,84.62 641.79,84.67 641.79,84.72 641.79,84.76 641.78,84.8 641.78,84.84 641.77,84.88 641.77,84.92 641.77,84.96 641.76,85 641.76,85.03 641.76,85.07 641.76,85.1 641.75,85.13 641.75,85.16 641.75,85.2 641.75,85.23 641.75,85.25 641.74,85.28 641.74,85.31 641.74,85.34 641.74,85.36 641.74,85.39 641.74,85.41 641.74,85.43 641.73,85.46 641.73,85.48 641.73,85.5 641.73,85.52 641.73,85.54 641.73,85.56 641.73,85.58 641.73,85.6 641.73,85.61 641.73,85.63 641.73,85.65 641.73,85.66 641.73,85.68 641.72,85.7 641.72,85.71 641.72,85.73 641.72,85.74 641.72,85.75 641.72,85.77 641.72,85.78 641.72,85.79" fill="none" stroke="#222" stroke-width="1.1"/>
<circle cx="727.2" cy="38.04" r="1.25" fill="#111"/><circle cx="697.6" cy="46.57" r="1.25" fill="#111"/><circle cx="677.8" cy="53.98" r="1.25" fill="#111"/><circle cx="664.82" cy="60.23" r="1.25" fill="#111"/><circle cx="656.43" cy="65.37" r="1.25" fill="#111"/><circle cx="651.06" cy="69.56" r="1.25" fill="#111"/><circle cx="647.63" cy="72.93" r="1.25" fill="#111"/><circle cx="645.46" cy="75.63" r="1.25" fill="#111"/><circle cx="644.08" cy="77.79" r="1.25" fill="#111"/><circle cx="643.21" cy="79.52" r="1.25" fill="#111"/><circle cx="642.66" cy="80.89" r="1.25" fill="#111"/><circle cx="642.31" cy="81.98" r="1.25" fill="#111"/><circle cx="642.09" cy="82.85" r="1.25" fill="#111"/><circle cx="641.95" cy="83.54" r="1.25" fill="#111"/><circle cx="641.87" cy="84.08" r="1.25" fill="#111"/><circle cx="641.81" cy="84.52" r="1.25" fill="#111"/><circle cx="641.78" cy="84.86" r="1.25" fill="#111"/><circle cx="641.75" cy="85.14" r="1.25" fill="#111"/><circle cx="641.74" cy="85.36" r="1.25" fill="#111"/><circle cx="641.73" cy="85.53" r="1.25" fill="#111"/>
<polyline points="1213.92,-103.35 1187.96,-100.26 1162.86,-97.11 1138.61,-93.9 1115.22,-90.65 1092.67,-87.36 1070.97,-84.04 1050.1,-80.69 1030.06,-77.33 1010.82,-73.96 992.37,-70.59 974.7,-67.23 957.79,-63.87 941.62,-60.53 926.16,-57.2 911.4,-53.91 897.32,-50.63 883.89,-47.39 871.1,-44.19 858.92,-41.02 847.32,-37.9 836.29,-34.82 825.8,-31.78 815.84,-28.79 806.37,-25.85 797.39,-22.97 788.86,-20.13 780.77,-17.35 773.11,-14.62 765.84,-11.94 758.95,-9.32 752.43,-6.75 746.26,-4.24 740.41,-1.79 734.88,0.62 729.65,2.96 724.7,5.26 720.02,7.49 715.6,9.68 711.41,11.81 707.46,13.89 703.73,15.92 700.2,17.9 696.87,19.82 693.73,21.7 690.76,23.53 687.96,25.31 685.31,27.05 682.82,28.74 680.46,30.38 678.24,31.98 676.14,33.54 674.16,35.05 672.3,36.53 670.54,37.96 668.88,39.35 667.31,40.71 665.83,42.03 664.44,43.31 663.13,44.55 661.89,45.76 660.73,46.94 659.63,48.08 658.59,49.19 657.62,50.27 656.7,51.32 655.83,52.34 655.01,53.33 654.24,54.29 653.51,55.23 652.83,56.13 652.19,57.01 651.58,57.87 651.01,58.7 650.47,59.51 649.96,60.29 649.48,61.05 649.03,61.79 648.61,62.51 648.21,63.2 647.83,63.88 647.47,64.54 647.14,65.17 646.82,65.79 646.53,66.39 646.25,66.98 645.98,67.54 645.74,68.09 645.5,68.63 645.28,69.14 645.07,69.65 644.88,70.14 644.69,70.61 644.52,71.07 644.36,71.51 644.2,71.95 644.06,72.37 643.92,72.78 643.8,73.17 643.67,73.56 643.56,73.93 643.45,74.29 643.35,74.64 643.26,74.98 643.17,75.32 643.08,75.64 643,75.95 642.93,76.25 642.86,76.55 642.79,76.83 642.73,77.11 642.67,77.38 642.61,77.64 642.56,77.89 642.51,78.13 642.47,78.37 642.42,78.6 642.38,78.83 642.34,79.05 642.31,79.26 642.27,79.46 642.24,79.66 642.21,79.85 642.18,80.04 642.15,80.22 642.13,80.4 642.1,80.57 642.08,80.74 642.06,80.9 642.04,81.06 642.02,81.21 642,81.36 641.99,81.5 641.97,81.64 641.96,81.77 641.94,81.9 641.93,82.03 641.92,82.15 641.9,82.27 641.89,82.39 641.88,82.5 641.87,82.61 641.86,82.72 641.86,82.82 641.85,82.92 641.84,83.02 641.83,83.11 641.83,83.2 641.82,83.29 641.81,83.38 641.81,83.46 641.8,83.54 641.8,83.62 641.79,83.7 641.79,83.77 641.78,83.84 641.78,83.91 641.78,83.98 641.77,84.04 641.77,84.11 641.77,84.17 641.76,84.23 641.76,84.29 641.76,84.34 641.76,84.4 641.75,84.45 641.75,84.5 641.75,84.55 641.75,84.6 641.75,84.65 641.74,84.7 641.74,84.74 641.74,84.78 641.74,84.83 641.74,84.87 641.74,84.91 641.74,84.94 641.73,84.98 641.73,85.02 641.73,85.05 641.73,85.09" fill="none" stroke="#f03a3a" stroke-width="1.35"/>
<circle cx="698.51" cy="18.87" r="1.25" fill="#22ee22"/><circle cx="677.86" cy="32.26" r="1.25" fill="#22ee22"/><circle cx="664.64" cy="43.12" r="1.25" fill="#22ee22"/><circle cx="656.23" cy="51.86" r="1.25" fill="#22ee22"/><circle cx="650.89" cy="58.87" r="1.25" fill="#22ee22"/><circle cx="647.52" cy="64.46" r="1.25" fill="#22ee22"/><circle cx="645.38" cy="68.92" r="1.25" fill="#22ee22"/><circle cx="644.03" cy="72.46" r="1.25" fill="#22ee22"/><circle cx="643.18" cy="75.28" r="1.25" fill="#22ee22"/><circle cx="642.64" cy="77.53" r="1.25" fill="#22ee22"/><circle cx="642.3" cy="79.31" r="1.25" fill="#22ee22"/><circle cx="642.08" cy="80.73" r="1.25" fill="#22ee22"/><circle cx="641.95" cy="81.85" r="1.25" fill="#22ee22"/><circle cx="641.86" cy="82.75" r="1.25" fill="#22ee22"/><circle cx="641.81" cy="83.46" r="1.25" fill="#22ee22"/><circle cx="641.77" cy="84.02" r="1.25" fill="#22ee22"/>
</g>
<rect x="634.3" y="11.3" width="103" height="74.9" fill="none" stroke="#333" stroke-width="0.8"/>
<path d="M634.3 86.2V84.6M644.6 86.2V85.2M654.9 86.2V84.6M665.2 86.2V85.2M675.5 86.2V84.6M685.8 86.2V85.2M696.1 86.2V84.6M706.4 86.2V85.2M716.7 86.2V84.6M727 86.2V85.2M737.3 86.2V84.6M634.3 86.2H635.9M634.3 78.71H635.3M634.3 71.22H635.9M634.3 63.73H635.3M634.3 56.24H635.9M634.3 48.75H635.3M634.3 41.26H635.9M634.3 33.77H635.3M634.3 26.28H635.9M634.3 18.79H635.3M634.3 11.3H635.9" stroke="#333" stroke-width="0.6" fill="none"/>
<text x="634.3" y="92.2" font-size="4.6" text-anchor="middle" fill="#333">0</text>
<text x="654.9" y="92.2" font-size="4.6" text-anchor="middle" fill="#333">200</text>
<text x="675.5" y="92.2" font-size="4.6" text-anchor="middle" fill="#333">400</text>
<text x="696.1" y="92.2" font-size="4.6" text-anchor="middle" fill="#333">600</text>
<text x="716.7" y="92.2" font-size="4.6" text-anchor="middle" fill="#333">800</text>
<text x="737.3" y="92.2" font-size="4.6" text-anchor="middle" fill="#333">1000</text>
<text x="632.6" y="87.8" font-size="4.6" text-anchor="end" fill="#333">0</text>
<text x="632.6" y="72.82" font-size="4.6" text-anchor="end" fill="#333">800</text>
<text x="632.6" y="57.84" font-size="4.6" text-anchor="end" fill="#333">1600</text>
<text x="632.6" y="42.86" font-size="4.6" text-anchor="end" fill="#333">2400</text>
<text x="632.6" y="27.88" font-size="4.6" text-anchor="end" fill="#333">3200</text>
<text x="632.6" y="12.9" font-size="4.6" text-anchor="end" fill="#333">4000</text>
<text x="686.3" y="97.6" font-size="5.6" text-anchor="middle" fill="#333">Z'/ohm</text>
<text transform="translate(620.2,48.5) rotate(-90)" font-size="5.6" text-anchor="middle" fill="#333">-Z''/ohm</text>
<line x1="637.8" y1="18.1" x2="647.6" y2="18.1" stroke="#222" stroke-width="0.9"/><circle cx="643.5" cy="18.1" r="1.1" fill="#111"/>
<line x1="637.8" y1="23.9" x2="647.6" y2="23.9" stroke="#f03a3a" stroke-width="1.0"/><circle cx="643.5" cy="23.9" r="1.1" fill="#22ee22"/>
<text x="652" y="19.9" font-size="5" fill="#222">0%</text>
<text x="651.4" y="25.7" font-size="5" fill="#222">3.0%</text>
</svg>
</body></html>
